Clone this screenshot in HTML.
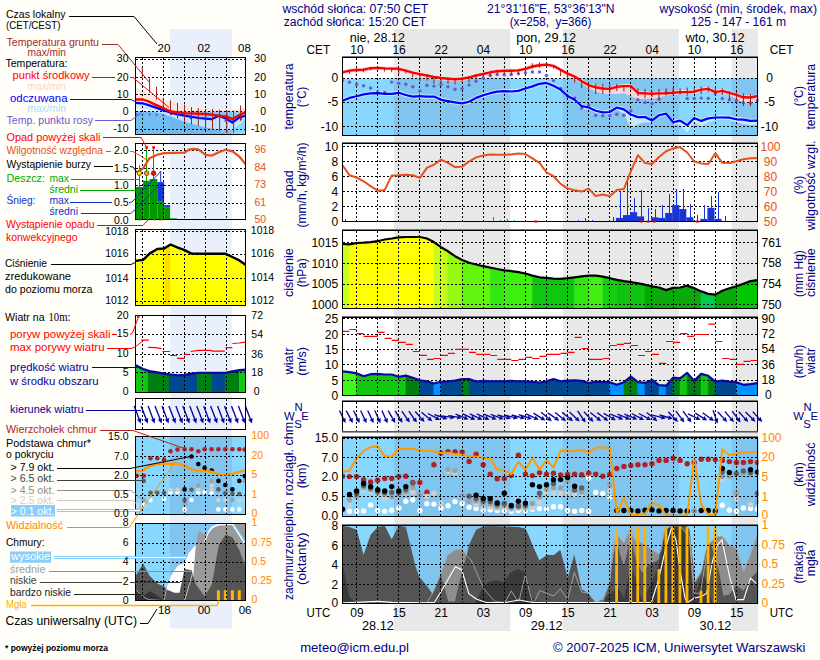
<!DOCTYPE html>
<html lang="pl"><head><meta charset="utf-8"><title>Meteogram ICM</title>
<style>
html,body{margin:0;padding:0;background:#fffef8;}
body{width:820px;height:660px;overflow:hidden;font-family:"Liberation Sans",sans-serif;}
svg{display:block;font-family:"Liberation Sans",sans-serif;}
text{white-space:pre;}
</style></head><body>
<svg width="820" height="660" viewBox="0 0 820 660">
<rect x="0" y="0" width="820" height="660" fill="#fffef8"/>
<rect x="342" y="29" width="416" height="602" fill="#fff"/>
<rect x="394.1" y="29.0" width="116.2" height="602.0" fill="#e8e8e8"/><rect x="562.9" y="29.0" width="116.0" height="602.0" fill="#e8e8e8"/><rect x="731.6" y="29.0" width="26.4" height="602.0" fill="#e8e8e8"/>
<clipPath id="c1"><rect x="342.5" y="57.5" width="416.0" height="78.0"/></clipPath>
<g clip-path="url(#c1)">
<rect x="342.5" y="78.4" width="416.0" height="57.6" fill="#87d7ff"/>
<rect x="394.1" y="78.4" width="116.2" height="57.6" fill="#80c4f0"/>
<rect x="562.9" y="78.4" width="116.0" height="57.6" fill="#80c4f0"/>
<rect x="731.6" y="78.4" width="26.4" height="57.6" fill="#80c4f0"/>
<polygon points="342.5,98.6 349.5,95.7 356.6,94.0 363.6,92.2 370.6,91.2 377.7,91.0 384.7,91.6 391.7,91.6 398.8,90.6 405.8,92.8 412.8,94.4 419.9,94.0 426.9,94.4 433.9,94.4 441.0,97.6 448.0,98.9 455.0,100.2 462.1,101.2 469.1,99.5 476.1,95.7 483.2,93.1 490.2,91.0 497.2,89.5 504.3,88.9 511.3,89.3 518.4,88.7 525.4,86.3 532.4,84.2 539.5,81.6 546.5,80.7 553.5,83.5 560.6,87.4 567.6,93.8 574.6,97.6 581.7,104.0 588.7,105.3 595.7,108.5 602.8,110.2 609.8,109.8 616.8,105.3 623.9,107.2 630.9,112.3 637.9,114.9 645.0,114.9 652.0,118.4 659.0,113.0 666.1,111.4 673.1,120.0 680.1,118.4 687.2,123.0 694.2,115.8 701.2,118.7 708.3,116.2 715.3,115.3 722.3,115.3 729.4,115.5 736.4,117.1 743.4,117.5 750.5,118.7 757.5,118.4 757.5,124.8 750.5,125.1 743.4,123.9 736.4,122.5 729.4,119.9 722.3,119.7 715.3,119.7 708.3,122.6 701.2,126.1 694.2,122.2 687.2,132.4 680.1,124.8 673.1,124.4 666.1,115.8 659.0,117.4 652.0,122.8 645.0,122.3 637.9,124.3 630.9,128.7 623.9,113.6 616.8,109.7 609.8,114.2 602.8,114.6 595.7,112.9 588.7,109.7 581.7,108.4 574.6,102.0 567.6,98.2 560.6,91.8 553.5,87.9 546.5,85.1 539.5,86.0 532.4,88.6 525.4,90.7 518.4,93.1 511.3,93.7 504.3,93.3 497.2,93.9 490.2,95.4 483.2,97.5 476.1,100.1 469.1,103.9 462.1,105.6 455.0,104.6 448.0,103.3 441.0,102.0 433.9,98.8 426.9,98.8 419.9,98.4 412.8,98.8 405.8,97.2 398.8,95.0 391.7,96.0 384.7,96.0 377.7,95.4 370.6,95.6 363.6,96.6 356.6,98.4 349.5,100.1 342.5,103.0" fill="#d4efff" opacity="0.85"/>
<polygon points="342.5,70.3 349.5,68.6 356.6,68.0 363.6,67.7 370.6,66.2 377.7,65.9 384.7,66.4 391.7,66.6 398.8,66.8 405.8,68.6 412.8,70.7 419.9,72.2 426.9,73.5 433.9,75.0 441.0,76.0 448.0,76.7 455.0,77.3 462.1,76.8 469.1,75.4 476.1,73.5 483.2,72.0 490.2,70.3 497.2,69.3 504.3,68.7 511.3,68.7 518.4,68.4 525.4,66.8 532.4,64.5 539.5,63.2 546.5,62.6 553.5,63.9 560.6,67.7 567.6,71.6 574.6,74.5 581.7,79.2 588.7,83.1 595.7,85.3 602.8,86.5 609.8,86.9 616.8,84.8 623.9,84.1 630.9,84.1 637.9,91.0 645.0,91.4 652.0,91.7 659.0,91.4 666.1,91.2 673.1,90.8 680.1,90.1 687.2,90.1 694.2,89.7 701.2,87.6 708.3,86.9 715.3,90.1 722.3,88.9 729.4,90.8 736.4,92.9 743.4,95.3 750.5,95.5 757.5,94.0 757.5,102.2 750.5,103.7 743.4,102.5 736.4,99.1 729.4,95.0 722.3,93.1 715.3,94.3 708.3,91.1 701.2,91.8 694.2,93.9 687.2,94.3 680.1,94.3 673.1,95.0 666.1,95.4 659.0,97.6 652.0,98.9 645.0,98.6 637.9,99.2 630.9,96.3 623.9,93.3 616.8,94.0 609.8,94.1 602.8,93.7 595.7,91.5 588.7,88.3 581.7,83.4 574.6,78.7 567.6,75.8 560.6,71.9 553.5,68.1 546.5,66.8 539.5,67.4 532.4,68.7 525.4,71.0 518.4,72.6 511.3,72.9 504.3,72.9 497.2,73.5 490.2,74.5 483.2,76.2 476.1,77.7 469.1,79.6 462.1,81.0 455.0,81.5 448.0,80.9 441.0,80.2 433.9,79.2 426.9,77.7 419.9,76.4 412.8,74.9 405.8,72.8 398.8,71.0 391.7,70.8 384.7,70.6 377.7,70.1 370.6,70.4 363.6,71.9 356.6,72.2 349.5,72.8 342.5,74.5" fill="#ffd9d9" opacity="0.9"/>
</g>
<g stroke="#000" stroke-width="1" stroke-dasharray="2,2" shape-rendering="crispEdges" fill="none"><line x1="356.5" y1="57.5" x2="356.5" y2="135.5"/><line x1="377.5" y1="57.5" x2="377.5" y2="135.5"/><line x1="398.5" y1="57.5" x2="398.5" y2="135.5"/><line x1="419.5" y1="57.5" x2="419.5" y2="135.5"/><line x1="440.5" y1="57.5" x2="440.5" y2="135.5"/><line x1="462.5" y1="57.5" x2="462.5" y2="135.5"/><line x1="483.5" y1="57.5" x2="483.5" y2="135.5"/><line x1="504.5" y1="57.5" x2="504.5" y2="135.5"/><line x1="525.5" y1="57.5" x2="525.5" y2="135.5"/><line x1="546.5" y1="57.5" x2="546.5" y2="135.5"/><line x1="567.5" y1="57.5" x2="567.5" y2="135.5"/><line x1="588.5" y1="57.5" x2="588.5" y2="135.5"/><line x1="609.5" y1="57.5" x2="609.5" y2="135.5"/><line x1="630.5" y1="57.5" x2="630.5" y2="135.5"/><line x1="651.5" y1="57.5" x2="651.5" y2="135.5"/><line x1="673.5" y1="57.5" x2="673.5" y2="135.5"/><line x1="694.5" y1="57.5" x2="694.5" y2="135.5"/><line x1="715.5" y1="57.5" x2="715.5" y2="135.5"/><line x1="736.5" y1="57.5" x2="736.5" y2="135.5"/><line x1="342.5" y1="78.5" x2="757.5" y2="78.5"/><line x1="342.5" y1="102.5" x2="757.5" y2="102.5"/><line x1="342.5" y1="126.5" x2="757.5" y2="126.5"/></g>
<g clip-path="url(#c1)">
<circle cx="342.5" cy="80.6" r="1.7" fill="#6a5acd"/>
<circle cx="349.5" cy="82.3" r="1.7" fill="#6a5acd"/>
<circle cx="356.6" cy="84.2" r="1.7" fill="#6a5acd"/>
<circle cx="363.6" cy="85.7" r="1.7" fill="#6a5acd"/>
<circle cx="370.6" cy="88.0" r="1.7" fill="#6a5acd"/>
<circle cx="377.7" cy="91.9" r="1.7" fill="#6a5acd"/>
<circle cx="384.7" cy="92.4" r="1.7" fill="#6a5acd"/>
<circle cx="391.7" cy="82.1" r="1.7" fill="#6a5acd"/>
<circle cx="398.8" cy="83.2" r="1.7" fill="#6a5acd"/>
<circle cx="405.8" cy="84.2" r="1.7" fill="#6a5acd"/>
<circle cx="412.8" cy="86.8" r="1.7" fill="#6a5acd"/>
<circle cx="419.9" cy="90.9" r="1.7" fill="#6a5acd"/>
<circle cx="426.9" cy="85.2" r="1.7" fill="#6a5acd"/>
<circle cx="433.9" cy="86.1" r="1.7" fill="#6a5acd"/>
<circle cx="441.0" cy="84.4" r="1.7" fill="#6a5acd"/>
<circle cx="448.0" cy="86.8" r="1.7" fill="#6a5acd"/>
<circle cx="455.0" cy="89.3" r="1.7" fill="#6a5acd"/>
<circle cx="462.1" cy="88.7" r="1.7" fill="#6a5acd"/>
<circle cx="469.1" cy="85.1" r="1.7" fill="#6a5acd"/>
<circle cx="476.1" cy="81.2" r="1.7" fill="#6a5acd"/>
<circle cx="483.2" cy="78.0" r="1.7" fill="#6a5acd"/>
<circle cx="490.2" cy="75.5" r="1.7" fill="#6a5acd"/>
<circle cx="497.2" cy="74.6" r="1.7" fill="#6a5acd"/>
<circle cx="504.3" cy="74.8" r="1.7" fill="#6a5acd"/>
<circle cx="511.3" cy="74.5" r="1.7" fill="#6a5acd"/>
<circle cx="518.4" cy="73.8" r="1.7" fill="#6a5acd"/>
<circle cx="525.4" cy="72.7" r="1.7" fill="#6a5acd"/>
<circle cx="532.4" cy="72.0" r="1.7" fill="#6a5acd"/>
<circle cx="539.5" cy="71.9" r="1.7" fill="#6a5acd"/>
<circle cx="546.5" cy="75.5" r="1.7" fill="#6a5acd"/>
<circle cx="553.5" cy="80.6" r="1.7" fill="#6a5acd"/>
<circle cx="560.6" cy="88.5" r="1.7" fill="#6a5acd"/>
<circle cx="567.6" cy="96.2" r="1.7" fill="#6a5acd"/>
<circle cx="574.6" cy="98.3" r="1.7" fill="#6a5acd"/>
<circle cx="581.7" cy="108.1" r="1.7" fill="#6a5acd"/>
<circle cx="588.7" cy="105.2" r="1.7" fill="#6a5acd"/>
<circle cx="595.7" cy="115.2" r="1.7" fill="#6a5acd"/>
<circle cx="602.8" cy="115.8" r="1.7" fill="#6a5acd"/>
<circle cx="609.8" cy="115.8" r="1.7" fill="#6a5acd"/>
<circle cx="616.8" cy="114.2" r="1.7" fill="#6a5acd"/>
<circle cx="623.9" cy="115.2" r="1.7" fill="#6a5acd"/>
<circle cx="630.9" cy="110.7" r="1.7" fill="#6a5acd"/>
<circle cx="637.9" cy="99.8" r="1.7" fill="#6a5acd"/>
<circle cx="645.0" cy="102.6" r="1.7" fill="#6a5acd"/>
<circle cx="652.0" cy="103.4" r="1.7" fill="#6a5acd"/>
<circle cx="659.0" cy="99.2" r="1.7" fill="#6a5acd"/>
<circle cx="666.1" cy="92.8" r="1.7" fill="#6a5acd"/>
<circle cx="673.1" cy="92.8" r="1.7" fill="#6a5acd"/>
<circle cx="680.1" cy="92.4" r="1.7" fill="#6a5acd"/>
<circle cx="687.2" cy="98.5" r="1.7" fill="#6a5acd"/>
<circle cx="694.2" cy="98.5" r="1.7" fill="#6a5acd"/>
<circle cx="701.2" cy="98.1" r="1.7" fill="#6a5acd"/>
<circle cx="708.3" cy="98.5" r="1.7" fill="#6a5acd"/>
<circle cx="715.3" cy="93.4" r="1.7" fill="#6a5acd"/>
<circle cx="722.3" cy="98.5" r="1.7" fill="#6a5acd"/>
<circle cx="729.4" cy="99.8" r="1.7" fill="#6a5acd"/>
<circle cx="736.4" cy="100.8" r="1.7" fill="#6a5acd"/>
<circle cx="743.4" cy="102.6" r="1.7" fill="#6a5acd"/>
<circle cx="750.5" cy="103.0" r="1.7" fill="#6a5acd"/>
<circle cx="757.5" cy="100.5" r="1.7" fill="#6a5acd"/>
<polyline points="342.5,100.8 349.5,97.9 356.6,96.2 363.6,94.4 370.6,93.4 377.7,93.2 384.7,93.8 391.7,93.8 398.8,92.8 405.8,95.0 412.8,96.6 419.9,96.2 426.9,96.6 433.9,96.6 441.0,99.8 448.0,101.1 455.0,102.4 462.1,103.4 469.1,101.7 476.1,97.9 483.2,95.3 490.2,93.2 497.2,91.7 504.3,91.1 511.3,91.5 518.4,90.9 525.4,88.5 532.4,86.4 539.5,83.8 546.5,82.9 553.5,85.7 560.6,89.6 567.6,96.0 574.6,99.8 581.7,106.2 588.7,107.5 595.7,110.7 602.8,112.4 609.8,112.0 616.8,107.5 623.9,109.4 630.9,114.5 637.9,117.1 645.0,117.1 652.0,120.6 659.0,115.2 666.1,113.6 673.1,122.2 680.1,120.6 687.2,125.2 694.2,118.0 701.2,120.9 708.3,118.4 715.3,117.5 722.3,117.5 729.4,117.7 736.4,119.3 743.4,119.7 750.5,120.9 757.5,120.6" fill="none" stroke="#0000ff" stroke-width="2.2" stroke-linejoin="round"/>
<polyline points="342.5,72.3 349.5,70.6 356.6,70.0 363.6,69.7 370.6,68.2 377.7,67.9 384.7,68.4 391.7,68.6 398.8,68.8 405.8,70.6 412.8,72.7 419.9,74.2 426.9,75.5 433.9,77.0 441.0,78.0 448.0,78.7 455.0,79.3 462.1,78.8 469.1,77.4 476.1,75.5 483.2,74.0 490.2,72.3 497.2,71.3 504.3,70.7 511.3,70.7 518.4,70.4 525.4,68.8 532.4,66.5 539.5,65.2 546.5,64.6 553.5,65.9 560.6,69.7 567.6,73.6 574.6,76.5 581.7,81.2 588.7,85.1 595.7,87.3 602.8,88.5 609.8,88.9 616.8,86.8 623.9,86.1 630.9,86.1 637.9,93.0 645.0,93.4 652.0,93.7 659.0,93.4 666.1,93.2 673.1,92.8 680.1,92.1 687.2,92.1 694.2,91.7 701.2,89.6 708.3,88.9 715.3,92.1 722.3,90.9 729.4,92.8 736.4,94.9 743.4,97.3 750.5,97.5 757.5,96.0" fill="none" stroke="#ff0000" stroke-width="2.4" stroke-linejoin="round"/>
<g stroke="#b01818" stroke-width="1"><line x1="349.5" y1="70.1" x2="349.5" y2="73.6"/><line x1="356.6" y1="68.4" x2="356.6" y2="72.3"/><line x1="363.6" y1="68.4" x2="363.6" y2="72.3"/><line x1="370.6" y1="67.2" x2="370.6" y2="70.4"/><line x1="377.7" y1="66.5" x2="377.7" y2="69.7"/><line x1="384.7" y1="67.8" x2="384.7" y2="71.6"/><line x1="391.7" y1="67.8" x2="391.7" y2="72.3"/><line x1="398.8" y1="68.4" x2="398.8" y2="74.2"/><line x1="405.8" y1="70.1" x2="405.8" y2="73.6"/><line x1="412.8" y1="72.3" x2="412.8" y2="77.4"/><line x1="419.9" y1="73.6" x2="419.9" y2="81.2"/><line x1="426.9" y1="74.2" x2="426.9" y2="80.6"/><line x1="433.9" y1="76.1" x2="433.9" y2="83.8"/><line x1="441.0" y1="77.4" x2="441.0" y2="82.5"/><line x1="448.0" y1="77.4" x2="448.0" y2="83.8"/><line x1="455.0" y1="78.0" x2="455.0" y2="84.4"/><line x1="462.1" y1="77.4" x2="462.1" y2="82.5"/><line x1="469.1" y1="76.1" x2="469.1" y2="82.5"/><line x1="476.1" y1="74.2" x2="476.1" y2="79.3"/><line x1="483.2" y1="72.9" x2="483.2" y2="76.8"/><line x1="490.2" y1="71.6" x2="490.2" y2="76.1"/><line x1="497.2" y1="69.7" x2="497.2" y2="74.2"/><line x1="504.3" y1="69.7" x2="504.3" y2="74.2"/><line x1="511.3" y1="69.7" x2="511.3" y2="74.8"/><line x1="518.4" y1="69.7" x2="518.4" y2="74.2"/><line x1="525.4" y1="67.8" x2="525.4" y2="71.0"/><line x1="532.4" y1="63.3" x2="532.4" y2="68.4"/><line x1="539.5" y1="62.4" x2="539.5" y2="67.8"/><line x1="546.5" y1="62.9" x2="546.5" y2="66.5"/><line x1="553.5" y1="65.9" x2="553.5" y2="68.4"/><line x1="560.6" y1="69.7" x2="560.6" y2="76.1"/><line x1="567.6" y1="72.9" x2="567.6" y2="78.7"/><line x1="574.6" y1="76.1" x2="574.6" y2="82.5"/><line x1="581.7" y1="80.6" x2="581.7" y2="88.3"/><line x1="588.7" y1="83.8" x2="588.7" y2="90.9"/><line x1="595.7" y1="83.8" x2="595.7" y2="94.1"/><line x1="602.8" y1="83.8" x2="602.8" y2="94.1"/><line x1="609.8" y1="84.4" x2="609.8" y2="93.4"/><line x1="616.8" y1="83.8" x2="616.8" y2="90.9"/><line x1="623.9" y1="85.1" x2="623.9" y2="91.5"/><line x1="630.9" y1="85.1" x2="630.9" y2="89.6"/><line x1="637.9" y1="88.3" x2="637.9" y2="96.0"/><line x1="645.0" y1="88.9" x2="645.0" y2="97.9"/><line x1="652.0" y1="91.5" x2="652.0" y2="97.3"/><line x1="659.0" y1="88.9" x2="659.0" y2="98.5"/><line x1="666.1" y1="88.3" x2="666.1" y2="95.3"/><line x1="673.1" y1="88.0" x2="673.1" y2="94.9"/><line x1="680.1" y1="88.3" x2="680.1" y2="94.4"/><line x1="687.2" y1="87.6" x2="687.2" y2="95.7"/><line x1="694.2" y1="88.3" x2="694.2" y2="93.4"/><line x1="701.2" y1="86.4" x2="701.2" y2="94.1"/><line x1="708.3" y1="86.4" x2="708.3" y2="92.1"/><line x1="715.3" y1="87.0" x2="715.3" y2="94.7"/><line x1="722.3" y1="88.3" x2="722.3" y2="94.7"/><line x1="729.4" y1="90.9" x2="729.4" y2="99.2"/><line x1="736.4" y1="92.1" x2="736.4" y2="99.8"/><line x1="743.4" y1="93.4" x2="743.4" y2="106.2"/><line x1="750.5" y1="94.1" x2="750.5" y2="106.2"/><line x1="757.5" y1="94.7" x2="757.5" y2="101.1"/></g>
</g>
<g shape-rendering="crispEdges" fill="none" stroke-width="1"><line x1="342.0" y1="56.5" x2="758.0" y2="56.5" stroke="#777"/><rect x="342.5" y="57.5" width="415.0" height="78.0" stroke="#000"/></g>
<clipPath id="c2"><rect x="342.5" y="143.5" width="416.0" height="79.0"/></clipPath>
<g stroke="#000" stroke-width="1" stroke-dasharray="2,2" shape-rendering="crispEdges" fill="none"><line x1="356.5" y1="143.5" x2="356.5" y2="221.5"/><line x1="377.5" y1="143.5" x2="377.5" y2="221.5"/><line x1="398.5" y1="143.5" x2="398.5" y2="221.5"/><line x1="419.5" y1="143.5" x2="419.5" y2="221.5"/><line x1="440.5" y1="143.5" x2="440.5" y2="221.5"/><line x1="462.5" y1="143.5" x2="462.5" y2="221.5"/><line x1="483.5" y1="143.5" x2="483.5" y2="221.5"/><line x1="504.5" y1="143.5" x2="504.5" y2="221.5"/><line x1="525.5" y1="143.5" x2="525.5" y2="221.5"/><line x1="546.5" y1="143.5" x2="546.5" y2="221.5"/><line x1="567.5" y1="143.5" x2="567.5" y2="221.5"/><line x1="588.5" y1="143.5" x2="588.5" y2="221.5"/><line x1="609.5" y1="143.5" x2="609.5" y2="221.5"/><line x1="630.5" y1="143.5" x2="630.5" y2="221.5"/><line x1="651.5" y1="143.5" x2="651.5" y2="221.5"/><line x1="673.5" y1="143.5" x2="673.5" y2="221.5"/><line x1="694.5" y1="143.5" x2="694.5" y2="221.5"/><line x1="715.5" y1="143.5" x2="715.5" y2="221.5"/><line x1="736.5" y1="143.5" x2="736.5" y2="221.5"/><line x1="342.5" y1="146.5" x2="757.5" y2="146.5"/><line x1="342.5" y1="161.5" x2="757.5" y2="161.5"/><line x1="342.5" y1="176.5" x2="757.5" y2="176.5"/><line x1="342.5" y1="191.5" x2="757.5" y2="191.5"/><line x1="342.5" y1="206.5" x2="757.5" y2="206.5"/></g>
<g clip-path="url(#c2)">
<rect x="578.0" y="220.2" width="1" height="1.3" fill="#1a35d6" shape-rendering="crispEdges"/>
<rect x="585.0" y="217.9" width="1" height="3.6" fill="#1a35d6" shape-rendering="crispEdges"/>
<rect x="592.0" y="220.2" width="1" height="1.3" fill="#1a35d6" shape-rendering="crispEdges"/>
<rect x="613.0" y="217.3" width="1" height="4.2" fill="#1a35d6" shape-rendering="crispEdges"/>
<rect x="615.9" y="217.9" width="7.1" height="3.6" fill="#1a35d6"/>
<rect x="620.0" y="191.0" width="1" height="30.5" fill="#1a35d6" shape-rendering="crispEdges"/>
<rect x="623.0" y="215.1" width="7.1" height="6.4" fill="#1a35d6"/>
<rect x="627.0" y="182.1" width="1" height="39.4" fill="#1a35d6" shape-rendering="crispEdges"/>
<rect x="630.0" y="212.2" width="7.1" height="9.3" fill="#1a35d6"/>
<rect x="634.0" y="197.5" width="1" height="24.0" fill="#1a35d6" shape-rendering="crispEdges"/>
<rect x="637.0" y="216.4" width="7.1" height="5.1" fill="#1a35d6"/>
<rect x="641.0" y="190.0" width="1" height="31.5" fill="#1a35d6" shape-rendering="crispEdges"/>
<rect x="644.1" y="221.0" width="7.1" height="0.5" fill="#1a35d6"/>
<rect x="648.0" y="208.3" width="1" height="13.2" fill="#1a35d6" shape-rendering="crispEdges"/>
<rect x="651.1" y="217.3" width="7.1" height="4.2" fill="#1a35d6"/>
<rect x="655.0" y="209.0" width="1" height="12.5" fill="#1a35d6" shape-rendering="crispEdges"/>
<rect x="658.1" y="217.9" width="7.1" height="3.6" fill="#1a35d6"/>
<rect x="662.0" y="205.1" width="1" height="16.4" fill="#1a35d6" shape-rendering="crispEdges"/>
<rect x="665.2" y="213.0" width="7.1" height="8.5" fill="#1a35d6"/>
<rect x="669.0" y="194.2" width="1" height="27.3" fill="#1a35d6" shape-rendering="crispEdges"/>
<rect x="672.2" y="205.1" width="7.1" height="16.4" fill="#1a35d6"/>
<rect x="676.0" y="189.1" width="1" height="32.4" fill="#1a35d6" shape-rendering="crispEdges"/>
<rect x="679.2" y="209.0" width="7.1" height="12.5" fill="#1a35d6"/>
<rect x="683.0" y="189.1" width="1" height="32.4" fill="#1a35d6" shape-rendering="crispEdges"/>
<rect x="686.3" y="217.3" width="7.1" height="4.2" fill="#1a35d6"/>
<rect x="690.0" y="203.8" width="1" height="17.7" fill="#1a35d6" shape-rendering="crispEdges"/>
<rect x="697.0" y="215.1" width="1" height="6.4" fill="#1a35d6" shape-rendering="crispEdges"/>
<rect x="700.3" y="218.9" width="7.1" height="2.6" fill="#1a35d6"/>
<rect x="704.0" y="205.1" width="1" height="16.4" fill="#1a35d6" shape-rendering="crispEdges"/>
<rect x="707.4" y="207.9" width="7.1" height="13.6" fill="#1a35d6"/>
<rect x="711.0" y="196.1" width="1" height="25.4" fill="#1a35d6" shape-rendering="crispEdges"/>
<rect x="714.4" y="218.9" width="7.1" height="2.6" fill="#1a35d6"/>
<rect x="718.0" y="192.3" width="1" height="29.2" fill="#1a35d6" shape-rendering="crispEdges"/>
<rect x="725.0" y="216.4" width="1" height="5.1" fill="#1a35d6" shape-rendering="crispEdges"/>
<rect x="493.0" y="217.0" width="1" height="4.5" fill="#00b000" shape-rendering="crispEdges"/>
<rect x="500.0" y="219.5" width="1" height="2.0" fill="#00b000" shape-rendering="crispEdges"/>
<rect x="507.0" y="218.5" width="1" height="3.0" fill="#00b000" shape-rendering="crispEdges"/>
<rect x="514.0" y="219.5" width="1" height="2.0" fill="#00b000" shape-rendering="crispEdges"/>
<rect x="345.0" y="219.0" width="1" height="2.5" fill="#1a35d6" shape-rendering="crispEdges"/>
<polyline points="342.5,165.3 349.5,175.3 356.6,177.5 363.6,181.3 370.6,186.1 377.7,190.7 384.7,189.9 391.7,175.6 398.8,175.3 405.8,174.7 412.8,175.3 419.9,177.9 426.9,167.9 433.9,164.7 441.0,159.6 448.0,162.8 455.0,167.2 462.1,166.6 469.1,161.5 476.1,157.4 483.2,155.5 490.2,154.4 497.2,154.7 504.3,154.8 511.3,154.4 518.4,153.4 525.4,154.1 532.4,158.3 539.5,162.8 546.5,172.4 553.5,176.2 560.6,183.9 567.6,188.4 574.6,190.3 581.7,191.6 588.7,188.6 595.7,196.1 602.8,194.5 609.8,196.3 616.8,190.0 623.9,189.0 630.9,171.1 637.9,155.1 645.0,163.0 652.0,164.0 659.0,157.0 666.1,151.2 673.1,148.4 680.1,147.1 687.2,152.5 694.2,161.5 701.2,163.4 708.3,164.0 715.3,153.2 722.3,162.8 729.4,163.0 736.4,161.2 743.4,159.2 750.5,158.3 757.5,158.0" fill="none" stroke="#e8501a" stroke-width="2" stroke-linejoin="round"/>
</g>
<g shape-rendering="crispEdges" fill="none" stroke-width="1"><line x1="342.0" y1="142.5" x2="758.0" y2="142.5" stroke="#777"/><rect x="342.5" y="143.5" width="415.0" height="78.0" stroke="#000"/></g>
<rect x="534.1" y="220.5" width="3" height="2" fill="#d00000"/>
<rect x="639.7" y="220.5" width="3" height="2" fill="#d00000"/>
<rect x="646.8" y="220.5" width="3" height="2" fill="#d00000"/>
<rect x="652.9" y="220.5" width="3" height="2" fill="#d00000"/>
<rect x="696.0" y="220.5" width="3" height="2" fill="#d00000"/>
<clipPath id="c3"><rect x="342.5" y="230.5" width="416.0" height="79.0"/></clipPath>
<g clip-path="url(#c3)">
<polygon points="342.5,308.5 342.5,244.0 349.5,244.4 349.5,308.5" fill="#c8ff1e" stroke="#c8ff1e" stroke-width="0.6"/>
<polygon points="349.5,308.5 349.5,244.4 356.6,243.0 363.6,242.7 370.6,242.1 377.7,241.2 384.7,239.5 391.7,238.5 398.8,237.3 405.8,237.0 412.8,237.0 419.9,237.0 426.9,238.5 433.9,242.1 433.9,308.5" fill="#ffff00" stroke="#ffff00" stroke-width="0.6"/>
<polygon points="433.9,308.5 433.9,242.1 441.0,247.2 448.0,251.3 448.0,308.5" fill="#c6fa1c" stroke="#c6fa1c" stroke-width="0.6"/>
<polygon points="448.0,308.5 448.0,251.3 455.0,256.2 462.1,260.0 462.1,308.5" fill="#96fa10" stroke="#96fa10" stroke-width="0.6"/>
<polygon points="462.1,308.5 462.1,260.0 469.1,262.8 476.1,264.5 483.2,266.2 490.2,267.7 490.2,308.5" fill="#64f50f" stroke="#64f50f" stroke-width="0.6"/>
<polygon points="490.2,308.5 490.2,267.7 497.2,269.0 504.3,270.3 504.3,308.5" fill="#32e80f" stroke="#32e80f" stroke-width="0.6"/>
<polygon points="504.3,308.5 504.3,270.3 511.3,271.1 518.4,272.2 525.4,273.5 532.4,275.6 532.4,308.5" fill="#3cf00f" stroke="#3cf00f" stroke-width="0.6"/>
<polygon points="532.4,308.5 532.4,275.6 539.5,277.3 546.5,277.9 553.5,278.6 560.6,278.8 567.6,278.2 574.6,277.3 574.6,308.5" fill="#0cc80f" stroke="#0cc80f" stroke-width="0.6"/>
<polygon points="574.6,308.5 574.6,277.3 581.7,276.4 588.7,275.6 588.7,308.5" fill="#30e810" stroke="#30e810" stroke-width="0.6"/>
<polygon points="588.7,308.5 588.7,275.6 595.7,275.6 602.8,276.7 602.8,308.5" fill="#40f010" stroke="#40f010" stroke-width="0.6"/>
<polygon points="602.8,308.5 602.8,276.7 609.8,278.2 616.8,279.9 616.8,308.5" fill="#14d010" stroke="#14d010" stroke-width="0.6"/>
<polygon points="616.8,308.5 616.8,279.9 623.9,281.1 630.9,282.0 637.9,283.3 645.0,284.7 645.0,308.5" fill="#0fc40f" stroke="#0fc40f" stroke-width="0.6"/>
<polygon points="645.0,308.5 645.0,284.7 652.0,286.3 652.0,308.5" fill="#06a806" stroke="#06a806" stroke-width="0.6"/>
<polygon points="652.0,308.5 652.0,286.3 659.0,287.5 666.1,290.1 673.1,287.9 680.1,287.5 687.2,285.6 694.2,288.2 701.2,291.4 701.2,308.5" fill="#0aaa0a" stroke="#0aaa0a" stroke-width="0.6"/>
<polygon points="701.2,308.5 701.2,291.4 708.3,293.9 715.3,294.6 715.3,308.5" fill="#00c850" stroke="#00c850" stroke-width="0.6"/>
<polygon points="715.3,308.5 715.3,294.6 722.3,290.7 729.4,288.2 736.4,286.3 736.4,308.5" fill="#0aaa0a" stroke="#0aaa0a" stroke-width="0.6"/>
<polygon points="736.4,308.5 736.4,286.3 743.4,283.7 750.5,281.1 757.5,280.2 757.5,308.5" fill="#00c800" stroke="#00c800" stroke-width="0.6"/>
</g>
<g stroke="#000" stroke-width="1" stroke-dasharray="2,2" shape-rendering="crispEdges" fill="none"><line x1="356.5" y1="230.5" x2="356.5" y2="308.5"/><line x1="377.5" y1="230.5" x2="377.5" y2="308.5"/><line x1="398.5" y1="230.5" x2="398.5" y2="308.5"/><line x1="419.5" y1="230.5" x2="419.5" y2="308.5"/><line x1="440.5" y1="230.5" x2="440.5" y2="308.5"/><line x1="462.5" y1="230.5" x2="462.5" y2="308.5"/><line x1="483.5" y1="230.5" x2="483.5" y2="308.5"/><line x1="504.5" y1="230.5" x2="504.5" y2="308.5"/><line x1="525.5" y1="230.5" x2="525.5" y2="308.5"/><line x1="546.5" y1="230.5" x2="546.5" y2="308.5"/><line x1="567.5" y1="230.5" x2="567.5" y2="308.5"/><line x1="588.5" y1="230.5" x2="588.5" y2="308.5"/><line x1="609.5" y1="230.5" x2="609.5" y2="308.5"/><line x1="630.5" y1="230.5" x2="630.5" y2="308.5"/><line x1="651.5" y1="230.5" x2="651.5" y2="308.5"/><line x1="673.5" y1="230.5" x2="673.5" y2="308.5"/><line x1="694.5" y1="230.5" x2="694.5" y2="308.5"/><line x1="715.5" y1="230.5" x2="715.5" y2="308.5"/><line x1="736.5" y1="230.5" x2="736.5" y2="308.5"/><line x1="342.5" y1="242.5" x2="757.5" y2="242.5"/><line x1="342.5" y1="263.5" x2="757.5" y2="263.5"/><line x1="342.5" y1="284.5" x2="757.5" y2="284.5"/><line x1="342.5" y1="304.5" x2="757.5" y2="304.5"/></g>
<g clip-path="url(#c3)">
<polyline points="342.5,244.0 349.5,244.4 356.6,243.0 363.6,242.7 370.6,242.1 377.7,241.2 384.7,239.5 391.7,238.5 398.8,237.3 405.8,237.0 412.8,237.0 419.9,237.0 426.9,238.5 433.9,242.1 441.0,247.2 448.0,251.3 455.0,256.2 462.1,260.0 469.1,262.8 476.1,264.5 483.2,266.2 490.2,267.7 497.2,269.0 504.3,270.3 511.3,271.1 518.4,272.2 525.4,273.5 532.4,275.6 539.5,277.3 546.5,277.9 553.5,278.6 560.6,278.8 567.6,278.2 574.6,277.3 581.7,276.4 588.7,275.6 595.7,275.6 602.8,276.7 609.8,278.2 616.8,279.9 623.9,281.1 630.9,282.0 637.9,283.3 645.0,284.7 652.0,286.3 659.0,287.5 666.1,290.1 673.1,287.9 680.1,287.5 687.2,285.6 694.2,288.2 701.2,291.4 708.3,293.9 715.3,294.6 722.3,290.7 729.4,288.2 736.4,286.3 743.4,283.7 750.5,281.1 757.5,280.2" fill="none" stroke="#000" stroke-width="2.2" stroke-linejoin="round"/>
</g>
<g shape-rendering="crispEdges" fill="none" stroke-width="1"><line x1="342.0" y1="229.5" x2="758.0" y2="229.5" stroke="#777"/><rect x="342.5" y="230.5" width="415.0" height="78.0" stroke="#000"/></g>
<clipPath id="c4"><rect x="342.5" y="317.5" width="416.0" height="79.0"/></clipPath>
<g clip-path="url(#c4)">
<polygon points="342.5,395.5 342.5,371.3 349.5,372.2 356.6,373.3 356.6,395.5" fill="#40f818" stroke="#40f818" stroke-width="0.6"/>
<polygon points="356.6,395.5 356.6,373.3 363.6,376.2 370.6,374.2 377.7,373.9 384.7,374.5 391.7,374.5 398.8,376.8 405.8,375.6 405.8,395.5" fill="#10c810" stroke="#10c810" stroke-width="0.6"/>
<polygon points="405.8,395.5 405.8,375.6 412.8,377.7 419.9,380.3 419.9,395.5" fill="#008010" stroke="#008010" stroke-width="0.6"/>
<polygon points="419.9,395.5 419.9,380.3 426.9,381.3 433.9,383.5 433.9,395.5" fill="#004890" stroke="#004890" stroke-width="0.6"/>
<polygon points="433.9,395.5 433.9,383.5 441.0,381.8 441.0,395.5" fill="#0090ff" stroke="#0090ff" stroke-width="0.6"/>
<polygon points="441.0,395.5 441.0,381.8 448.0,381.3 455.0,380.6 462.1,379.0 462.1,395.5" fill="#004890" stroke="#004890" stroke-width="0.6"/>
<polygon points="462.1,395.5 462.1,379.0 469.1,379.0 469.1,395.5" fill="#008010" stroke="#008010" stroke-width="0.6"/>
<polygon points="469.1,395.5 469.1,379.0 476.1,381.6 483.2,380.9 490.2,381.3 497.2,381.3 504.3,381.3 511.3,380.9 518.4,381.3 525.4,381.3 532.4,381.8 539.5,382.6 546.5,381.3 553.5,379.0 560.6,381.3 567.6,380.6 574.6,380.3 581.7,380.9 588.7,383.1 595.7,381.6 602.8,382.2 609.8,382.2 609.8,395.5" fill="#004890" stroke="#004890" stroke-width="0.6"/>
<polygon points="609.8,395.5 609.8,382.2 616.8,384.8 623.9,382.2 623.9,395.5" fill="#0090ff" stroke="#0090ff" stroke-width="0.6"/>
<polygon points="623.9,395.5 623.9,382.2 630.9,376.5 637.9,382.2 637.9,395.5" fill="#008010" stroke="#008010" stroke-width="0.6"/>
<polygon points="637.9,395.5 637.9,382.2 645.0,382.9 645.0,395.5" fill="#0090ff" stroke="#0090ff" stroke-width="0.6"/>
<polygon points="645.0,395.5 645.0,382.9 652.0,380.0 659.0,385.2 659.0,395.5" fill="#004890" stroke="#004890" stroke-width="0.6"/>
<polygon points="659.0,395.5 659.0,385.2 666.1,385.7 666.1,395.5" fill="#0090ff" stroke="#0090ff" stroke-width="0.6"/>
<polygon points="666.1,395.5 666.1,385.7 673.1,377.7 673.1,395.5" fill="#004890" stroke="#004890" stroke-width="0.6"/>
<polygon points="673.1,395.5 673.1,377.7 680.1,378.4 680.1,395.5" fill="#008010" stroke="#008010" stroke-width="0.6"/>
<polygon points="680.1,395.5 680.1,378.4 687.2,372.9 687.2,395.5" fill="#10c810" stroke="#10c810" stroke-width="0.6"/>
<polygon points="687.2,395.5 687.2,372.9 694.2,380.9 701.2,373.9 701.2,395.5" fill="#008010" stroke="#008010" stroke-width="0.6"/>
<polygon points="701.2,395.5 701.2,373.9 708.3,375.8 708.3,395.5" fill="#10c810" stroke="#10c810" stroke-width="0.6"/>
<polygon points="708.3,395.5 708.3,375.8 715.3,381.6 715.3,395.5" fill="#008010" stroke="#008010" stroke-width="0.6"/>
<polygon points="715.3,395.5 715.3,381.6 722.3,380.6 729.4,381.6 736.4,382.2 736.4,395.5" fill="#004890" stroke="#004890" stroke-width="0.6"/>
<polygon points="736.4,395.5 736.4,382.2 743.4,384.8 750.5,384.1 757.5,383.1 757.5,395.5" fill="#0090ff" stroke="#0090ff" stroke-width="0.6"/>
</g>
<g stroke="#000" stroke-width="1" stroke-dasharray="2,2" shape-rendering="crispEdges" fill="none"><line x1="356.5" y1="317.5" x2="356.5" y2="395.5"/><line x1="377.5" y1="317.5" x2="377.5" y2="395.5"/><line x1="398.5" y1="317.5" x2="398.5" y2="395.5"/><line x1="419.5" y1="317.5" x2="419.5" y2="395.5"/><line x1="440.5" y1="317.5" x2="440.5" y2="395.5"/><line x1="462.5" y1="317.5" x2="462.5" y2="395.5"/><line x1="483.5" y1="317.5" x2="483.5" y2="395.5"/><line x1="504.5" y1="317.5" x2="504.5" y2="395.5"/><line x1="525.5" y1="317.5" x2="525.5" y2="395.5"/><line x1="546.5" y1="317.5" x2="546.5" y2="395.5"/><line x1="567.5" y1="317.5" x2="567.5" y2="395.5"/><line x1="588.5" y1="317.5" x2="588.5" y2="395.5"/><line x1="609.5" y1="317.5" x2="609.5" y2="395.5"/><line x1="630.5" y1="317.5" x2="630.5" y2="395.5"/><line x1="651.5" y1="317.5" x2="651.5" y2="395.5"/><line x1="673.5" y1="317.5" x2="673.5" y2="395.5"/><line x1="694.5" y1="317.5" x2="694.5" y2="395.5"/><line x1="715.5" y1="317.5" x2="715.5" y2="395.5"/><line x1="736.5" y1="317.5" x2="736.5" y2="395.5"/><line x1="342.5" y1="318.5" x2="757.5" y2="318.5"/><line x1="342.5" y1="334.5" x2="757.5" y2="334.5"/><line x1="342.5" y1="349.5" x2="757.5" y2="349.5"/><line x1="342.5" y1="364.5" x2="757.5" y2="364.5"/><line x1="342.5" y1="380.5" x2="757.5" y2="380.5"/></g>
<g clip-path="url(#c4)">
<polyline points="342.5,371.3 349.5,372.2 356.6,373.3 363.6,376.2 370.6,374.2 377.7,373.9 384.7,374.5 391.7,374.5 398.8,376.8 405.8,375.6 412.8,377.7 419.9,380.3 426.9,381.3 433.9,383.5 441.0,381.8 448.0,381.3 455.0,380.6 462.1,379.0 469.1,379.0 476.1,381.6 483.2,380.9 490.2,381.3 497.2,381.3 504.3,381.3 511.3,380.9 518.4,381.3 525.4,381.3 532.4,381.8 539.5,382.6 546.5,381.3 553.5,379.0 560.6,381.3 567.6,380.6 574.6,380.3 581.7,380.9 588.7,383.1 595.7,381.6 602.8,382.2 609.8,382.2 616.8,384.8 623.9,382.2 630.9,376.5 637.9,382.2 645.0,382.9 652.0,380.0 659.0,385.2 666.1,385.7 673.1,377.7 680.1,378.4 687.2,372.9 694.2,380.9 701.2,373.9 708.3,375.8 715.3,381.6 722.3,380.6 729.4,381.6 736.4,382.2 743.4,384.8 750.5,384.1 757.5,383.1" fill="none" stroke="#0a0aa0" stroke-width="2.2" stroke-linejoin="round"/>
<g stroke="#ff0000" stroke-width="1.2"><line x1="342.5" y1="331.4" x2="349.5" y2="331.4"/><line x1="349.5" y1="329.5" x2="356.6" y2="329.5"/><line x1="356.6" y1="333.6" x2="363.6" y2="333.6"/><line x1="363.6" y1="336.4" x2="370.6" y2="336.4"/><line x1="370.6" y1="336.4" x2="377.7" y2="336.4"/><line x1="377.7" y1="332.3" x2="384.7" y2="332.3"/><line x1="384.7" y1="338.4" x2="391.7" y2="338.4"/><line x1="391.7" y1="340.4" x2="398.8" y2="340.4"/><line x1="398.8" y1="342.3" x2="405.8" y2="342.3"/><line x1="405.8" y1="344.4" x2="412.8" y2="344.4"/><line x1="412.8" y1="351.5" x2="419.9" y2="351.5"/><line x1="419.9" y1="355.3" x2="426.9" y2="355.3"/><line x1="426.9" y1="359.4" x2="433.9" y2="359.4"/><line x1="433.9" y1="358.5" x2="441.0" y2="358.5"/><line x1="441.0" y1="355.3" x2="448.0" y2="355.3"/><line x1="448.0" y1="353.4" x2="455.0" y2="353.4"/><line x1="455.0" y1="349.3" x2="462.1" y2="349.3"/><line x1="462.1" y1="349.3" x2="469.1" y2="349.3"/><line x1="469.1" y1="352.4" x2="476.1" y2="352.4"/><line x1="476.1" y1="354.4" x2="483.2" y2="354.4"/><line x1="483.2" y1="354.4" x2="490.2" y2="354.4"/><line x1="490.2" y1="355.5" x2="497.2" y2="355.5"/><line x1="497.2" y1="359.4" x2="504.3" y2="359.4"/><line x1="504.3" y1="359.4" x2="511.3" y2="359.4"/><line x1="511.3" y1="360.5" x2="518.4" y2="360.5"/><line x1="518.4" y1="359.4" x2="525.4" y2="359.4"/><line x1="525.4" y1="357.3" x2="532.4" y2="357.3"/><line x1="532.4" y1="358.5" x2="539.5" y2="358.5"/><line x1="539.5" y1="356.4" x2="546.5" y2="356.4"/><line x1="546.5" y1="354.4" x2="553.5" y2="354.4"/><line x1="553.5" y1="354.4" x2="560.6" y2="354.4"/><line x1="560.6" y1="353.4" x2="567.6" y2="353.4"/><line x1="567.6" y1="352.4" x2="574.6" y2="352.4"/><line x1="574.6" y1="337.4" x2="581.7" y2="337.4"/><line x1="581.7" y1="348.5" x2="588.7" y2="348.5"/><line x1="588.7" y1="359.4" x2="595.7" y2="359.4"/><line x1="595.7" y1="359.4" x2="602.8" y2="359.4"/><line x1="602.8" y1="358.5" x2="609.8" y2="358.5"/><line x1="609.8" y1="345.5" x2="616.8" y2="345.5"/><line x1="616.8" y1="344.4" x2="623.9" y2="344.4"/><line x1="623.9" y1="343.4" x2="630.9" y2="343.4"/><line x1="630.9" y1="345.5" x2="637.9" y2="345.5"/><line x1="637.9" y1="355.5" x2="645.0" y2="355.5"/><line x1="645.0" y1="351.5" x2="652.0" y2="351.5"/><line x1="652.0" y1="354.4" x2="659.0" y2="354.4"/><line x1="659.0" y1="363.4" x2="666.1" y2="363.4"/><line x1="666.1" y1="341.5" x2="673.1" y2="341.5"/><line x1="673.1" y1="342.4" x2="680.1" y2="342.4"/><line x1="680.1" y1="333.6" x2="687.2" y2="333.6"/><line x1="687.2" y1="336.4" x2="694.2" y2="336.4"/><line x1="694.2" y1="334.5" x2="701.2" y2="334.5"/><line x1="701.2" y1="334.5" x2="708.3" y2="334.5"/><line x1="708.3" y1="324.2" x2="715.3" y2="324.2"/><line x1="715.3" y1="341.5" x2="722.3" y2="341.5"/><line x1="722.3" y1="358.5" x2="729.4" y2="358.5"/><line x1="729.4" y1="359.4" x2="736.4" y2="359.4"/><line x1="736.4" y1="364.3" x2="743.4" y2="364.3"/><line x1="743.4" y1="361.4" x2="750.5" y2="361.4"/><line x1="750.5" y1="360.5" x2="757.5" y2="360.5"/></g>
</g>
<g shape-rendering="crispEdges" fill="none" stroke-width="1"><line x1="342.0" y1="316.5" x2="758.0" y2="316.5" stroke="#777"/><rect x="342.5" y="317.5" width="415.0" height="78.0" stroke="#000"/></g>
<rect x="342.5" y="401.5" width="415.0" height="30.0" fill="none"/>
<g stroke="#000" stroke-width="1" stroke-dasharray="2,2" shape-rendering="crispEdges" fill="none"><line x1="356.5" y1="401.5" x2="356.5" y2="431.5"/><line x1="377.5" y1="401.5" x2="377.5" y2="431.5"/><line x1="398.5" y1="401.5" x2="398.5" y2="431.5"/><line x1="419.5" y1="401.5" x2="419.5" y2="431.5"/><line x1="440.5" y1="401.5" x2="440.5" y2="431.5"/><line x1="462.5" y1="401.5" x2="462.5" y2="431.5"/><line x1="483.5" y1="401.5" x2="483.5" y2="431.5"/><line x1="504.5" y1="401.5" x2="504.5" y2="431.5"/><line x1="525.5" y1="401.5" x2="525.5" y2="431.5"/><line x1="546.5" y1="401.5" x2="546.5" y2="431.5"/><line x1="567.5" y1="401.5" x2="567.5" y2="431.5"/><line x1="588.5" y1="401.5" x2="588.5" y2="431.5"/><line x1="609.5" y1="401.5" x2="609.5" y2="431.5"/><line x1="630.5" y1="401.5" x2="630.5" y2="431.5"/><line x1="651.5" y1="401.5" x2="651.5" y2="431.5"/><line x1="673.5" y1="401.5" x2="673.5" y2="431.5"/><line x1="694.5" y1="401.5" x2="694.5" y2="431.5"/><line x1="715.5" y1="401.5" x2="715.5" y2="431.5"/><line x1="736.5" y1="401.5" x2="736.5" y2="431.5"/></g>
<line x1="339.5" y1="410.5" x2="343.5" y2="419.0" stroke="#0505a5" stroke-width="1.35"/><polygon points="345.5,423.1 341.4,419.9 345.6,418.0" fill="#0505a5"/>
<line x1="346.2" y1="410.6" x2="350.7" y2="418.9" stroke="#0505a5" stroke-width="1.35"/><polygon points="352.8,423.0 348.6,420.0 352.7,417.8" fill="#0505a5"/>
<line x1="353.5" y1="410.5" x2="357.6" y2="419.0" stroke="#0505a5" stroke-width="1.35"/><polygon points="359.6,423.1 355.6,420.0 359.7,417.9" fill="#0505a5"/>
<line x1="360.6" y1="410.5" x2="364.6" y2="419.0" stroke="#0505a5" stroke-width="1.35"/><polygon points="366.6,423.1 362.5,419.9 366.7,418.0" fill="#0505a5"/>
<line x1="367.7" y1="410.5" x2="371.7" y2="419.0" stroke="#0505a5" stroke-width="1.35"/><polygon points="373.6,423.1 369.6,419.9 373.7,418.0" fill="#0505a5"/>
<line x1="374.8" y1="410.4" x2="378.6" y2="419.0" stroke="#0505a5" stroke-width="1.35"/><polygon points="380.5,423.2 376.5,419.9 380.7,418.1" fill="#0505a5"/>
<line x1="381.9" y1="410.4" x2="385.7" y2="419.0" stroke="#0505a5" stroke-width="1.35"/><polygon points="387.6,423.2 383.6,419.9 387.8,418.1" fill="#0505a5"/>
<line x1="388.2" y1="410.7" x2="392.9" y2="418.9" stroke="#0505a5" stroke-width="1.35"/><polygon points="395.2,422.9 390.9,420.0 394.9,417.7" fill="#0505a5"/>
<line x1="395.2" y1="410.8" x2="400.0" y2="418.9" stroke="#0505a5" stroke-width="1.35"/><polygon points="402.4,422.8 398.0,420.0 402.0,417.7" fill="#0505a5"/>
<line x1="401.8" y1="411.1" x2="407.2" y2="418.8" stroke="#0505a5" stroke-width="1.35"/><polygon points="409.8,422.5 405.3,420.1 409.1,417.4" fill="#0505a5"/>
<line x1="408.8" y1="411.1" x2="414.2" y2="418.8" stroke="#0505a5" stroke-width="1.35"/><polygon points="416.9,422.5 412.3,420.1 416.1,417.4" fill="#0505a5"/>
<line x1="415.3" y1="411.5" x2="421.4" y2="418.6" stroke="#0505a5" stroke-width="1.35"/><polygon points="424.5,422.1 419.7,420.1 423.2,417.1" fill="#0505a5"/>
<line x1="421.5" y1="412.3" x2="428.7" y2="418.3" stroke="#0505a5" stroke-width="1.35"/><polygon points="432.3,421.3 427.3,420.1 430.2,416.6" fill="#0505a5"/>
<line x1="427.8" y1="413.5" x2="436.1" y2="417.9" stroke="#0505a5" stroke-width="1.35"/><polygon points="440.1,420.1 435.0,420.0 437.1,415.9" fill="#0505a5"/>
<line x1="434.3" y1="414.6" x2="443.3" y2="417.5" stroke="#0505a5" stroke-width="1.35"/><polygon points="447.6,419.0 442.5,419.7 444.0,415.4" fill="#0505a5"/>
<line x1="441.1" y1="415.8" x2="450.4" y2="417.1" stroke="#0505a5" stroke-width="1.35"/><polygon points="454.9,417.8 450.1,419.4 450.7,414.9" fill="#0505a5"/>
<line x1="448.2" y1="415.6" x2="457.4" y2="417.2" stroke="#0505a5" stroke-width="1.35"/><polygon points="461.9,418.0 457.0,419.5 457.8,415.0" fill="#0505a5"/>
<line x1="455.6" y1="414.2" x2="464.3" y2="417.7" stroke="#0505a5" stroke-width="1.35"/><polygon points="468.6,419.4 463.4,419.8 465.2,415.6" fill="#0505a5"/>
<line x1="462.8" y1="413.8" x2="471.3" y2="417.8" stroke="#0505a5" stroke-width="1.35"/><polygon points="475.5,419.8 470.3,419.9 472.3,415.7" fill="#0505a5"/>
<line x1="469.8" y1="413.8" x2="478.3" y2="417.8" stroke="#0505a5" stroke-width="1.35"/><polygon points="482.5,419.8 477.3,419.9 479.3,415.7" fill="#0505a5"/>
<line x1="476.8" y1="413.8" x2="485.4" y2="417.8" stroke="#0505a5" stroke-width="1.35"/><polygon points="489.5,419.8 484.4,419.9 486.3,415.7" fill="#0505a5"/>
<line x1="483.7" y1="414.2" x2="492.4" y2="417.7" stroke="#0505a5" stroke-width="1.35"/><polygon points="496.7,419.4 491.6,419.8 493.3,415.6" fill="#0505a5"/>
<line x1="490.7" y1="414.4" x2="499.5" y2="417.6" stroke="#0505a5" stroke-width="1.35"/><polygon points="503.8,419.2 498.7,419.8 500.3,415.5" fill="#0505a5"/>
<line x1="497.5" y1="415.0" x2="506.6" y2="417.4" stroke="#0505a5" stroke-width="1.35"/><polygon points="511.0,418.6 506.0,419.6 507.2,415.2" fill="#0505a5"/>
<line x1="504.5" y1="415.1" x2="513.6" y2="417.4" stroke="#0505a5" stroke-width="1.35"/><polygon points="518.1,418.5 513.1,419.6 514.2,415.1" fill="#0505a5"/>
<line x1="511.6" y1="415.0" x2="520.7" y2="417.4" stroke="#0505a5" stroke-width="1.35"/><polygon points="525.1,418.6 520.1,419.6 521.3,415.2" fill="#0505a5"/>
<line x1="518.7" y1="414.6" x2="527.7" y2="417.5" stroke="#0505a5" stroke-width="1.35"/><polygon points="532.0,419.0 527.0,419.7 528.4,415.4" fill="#0505a5"/>
<line x1="526.1" y1="413.8" x2="534.6" y2="417.8" stroke="#0505a5" stroke-width="1.35"/><polygon points="538.8,419.8 533.6,419.9 535.6,415.7" fill="#0505a5"/>
<line x1="533.5" y1="413.1" x2="541.5" y2="418.1" stroke="#0505a5" stroke-width="1.35"/><polygon points="545.4,420.5 540.3,420.0 542.7,416.1" fill="#0505a5"/>
<line x1="541.1" y1="412.3" x2="548.3" y2="418.3" stroke="#0505a5" stroke-width="1.35"/><polygon points="551.8,421.3 546.8,420.1 549.8,416.6" fill="#0505a5"/>
<line x1="547.7" y1="412.9" x2="555.5" y2="418.1" stroke="#0505a5" stroke-width="1.35"/><polygon points="559.3,420.7 554.2,420.0 556.8,416.2" fill="#0505a5"/>
<line x1="555.1" y1="412.4" x2="562.4" y2="418.3" stroke="#0505a5" stroke-width="1.35"/><polygon points="566.0,421.2 561.0,420.1 563.9,416.5" fill="#0505a5"/>
<line x1="562.1" y1="412.4" x2="569.5" y2="418.3" stroke="#0505a5" stroke-width="1.35"/><polygon points="573.0,421.2 568.0,420.1 570.9,416.5" fill="#0505a5"/>
<line x1="569.5" y1="412.0" x2="576.4" y2="418.4" stroke="#0505a5" stroke-width="1.35"/><polygon points="579.7,421.6 574.8,420.1 577.9,416.8" fill="#0505a5"/>
<line x1="577.7" y1="411.0" x2="583.0" y2="418.8" stroke="#0505a5" stroke-width="1.35"/><polygon points="585.6,422.6 581.1,420.1 584.9,417.5" fill="#0505a5"/>
<line x1="583.9" y1="411.7" x2="590.3" y2="418.6" stroke="#0505a5" stroke-width="1.35"/><polygon points="593.5,421.9 588.6,420.1 592.0,417.0" fill="#0505a5"/>
<line x1="590.3" y1="412.4" x2="597.6" y2="418.3" stroke="#0505a5" stroke-width="1.35"/><polygon points="601.2,421.2 596.1,420.1 599.0,416.5" fill="#0505a5"/>
<line x1="597.2" y1="412.6" x2="604.7" y2="418.2" stroke="#0505a5" stroke-width="1.35"/><polygon points="608.3,421.0 603.3,420.1 606.1,416.4" fill="#0505a5"/>
<line x1="603.7" y1="413.4" x2="611.9" y2="418.0" stroke="#0505a5" stroke-width="1.35"/><polygon points="615.9,420.2 610.8,420.0 613.0,416.0" fill="#0505a5"/>
<line x1="610.3" y1="414.2" x2="619.1" y2="417.7" stroke="#0505a5" stroke-width="1.35"/><polygon points="623.3,419.4 618.2,419.8 619.9,415.6" fill="#0505a5"/>
<line x1="617.4" y1="414.2" x2="626.1" y2="417.7" stroke="#0505a5" stroke-width="1.35"/><polygon points="630.4,419.4 625.2,419.8 626.9,415.6" fill="#0505a5"/>
<line x1="624.4" y1="414.2" x2="633.1" y2="417.7" stroke="#0505a5" stroke-width="1.35"/><polygon points="637.4,419.4 632.3,419.8 634.0,415.6" fill="#0505a5"/>
<line x1="631.7" y1="413.5" x2="640.0" y2="417.9" stroke="#0505a5" stroke-width="1.35"/><polygon points="644.1,420.1 639.0,420.0 641.1,415.9" fill="#0505a5"/>
<line x1="638.8" y1="413.5" x2="647.1" y2="417.9" stroke="#0505a5" stroke-width="1.35"/><polygon points="651.1,420.1 646.0,420.0 648.2,415.9" fill="#0505a5"/>
<line x1="646.6" y1="412.4" x2="653.9" y2="418.3" stroke="#0505a5" stroke-width="1.35"/><polygon points="657.4,421.2 652.4,420.1 655.3,416.5" fill="#0505a5"/>
<line x1="652.2" y1="415.1" x2="661.4" y2="417.4" stroke="#0505a5" stroke-width="1.35"/><polygon points="665.8,418.5 660.8,419.6 661.9,415.1" fill="#0505a5"/>
<line x1="659.4" y1="414.8" x2="668.4" y2="417.5" stroke="#0505a5" stroke-width="1.35"/><polygon points="672.8,418.8 667.7,419.7 669.0,415.3" fill="#0505a5"/>
<line x1="668.3" y1="411.7" x2="674.7" y2="418.6" stroke="#0505a5" stroke-width="1.35"/><polygon points="677.9,421.9 673.1,420.1 676.4,417.0" fill="#0505a5"/>
<line x1="675.9" y1="411.2" x2="681.6" y2="418.7" stroke="#0505a5" stroke-width="1.35"/><polygon points="684.3,422.4 679.7,420.1 683.4,417.3" fill="#0505a5"/>
<line x1="683.0" y1="411.2" x2="688.6" y2="418.7" stroke="#0505a5" stroke-width="1.35"/><polygon points="691.4,422.4 686.8,420.1 690.4,417.3" fill="#0505a5"/>
<line x1="687.9" y1="413.8" x2="696.4" y2="417.8" stroke="#0505a5" stroke-width="1.35"/><polygon points="700.5,419.8 695.4,419.9 697.3,415.7" fill="#0505a5"/>
<line x1="695.3" y1="413.1" x2="703.3" y2="418.1" stroke="#0505a5" stroke-width="1.35"/><polygon points="707.2,420.5 702.1,420.0 704.5,416.1" fill="#0505a5"/>
<line x1="702.6" y1="412.7" x2="710.2" y2="418.2" stroke="#0505a5" stroke-width="1.35"/><polygon points="713.9,420.9 708.9,420.1 711.6,416.3" fill="#0505a5"/>
<line x1="713.0" y1="410.2" x2="716.1" y2="419.1" stroke="#0505a5" stroke-width="1.35"/><polygon points="717.6,423.4 713.9,419.8 718.3,418.3" fill="#0505a5"/>
<line x1="717.6" y1="411.7" x2="724.0" y2="418.6" stroke="#0505a5" stroke-width="1.35"/><polygon points="727.1,421.9 722.3,420.1 725.7,417.0" fill="#0505a5"/>
<line x1="724.9" y1="411.4" x2="730.9" y2="418.6" stroke="#0505a5" stroke-width="1.35"/><polygon points="733.9,422.2 729.2,420.1 732.7,417.2" fill="#0505a5"/>
<line x1="732.2" y1="411.2" x2="737.8" y2="418.7" stroke="#0505a5" stroke-width="1.35"/><polygon points="740.6,422.4 736.0,420.1 739.7,417.3" fill="#0505a5"/>
<line x1="738.7" y1="411.7" x2="745.1" y2="418.6" stroke="#0505a5" stroke-width="1.35"/><polygon points="748.2,421.9 743.4,420.1 746.8,417.0" fill="#0505a5"/>
<line x1="745.5" y1="411.9" x2="752.2" y2="418.5" stroke="#0505a5" stroke-width="1.35"/><polygon points="755.4,421.7 750.5,420.1 753.8,416.9" fill="#0505a5"/>
<line x1="752.8" y1="411.6" x2="759.1" y2="418.6" stroke="#0505a5" stroke-width="1.35"/><polygon points="762.2,422.0 757.4,420.1 760.8,417.0" fill="#0505a5"/>
<g shape-rendering="crispEdges" fill="none" stroke-width="1"><line x1="342" y1="400.5" x2="758" y2="400.5" stroke="#777"/><polyline points="342.5,432 342.5,401.5 757.5,401.5 757.5,432" stroke="#000"/><line x1="342" y1="431.5" x2="758" y2="431.5" stroke="#555"/><line x1="342" y1="432.5" x2="758" y2="432.5" stroke="#999"/></g>
<clipPath id="c6"><rect x="342.5" y="437.5" width="416.0" height="79.5"/></clipPath>
<rect x="342.5" y="437.5" width="416.0" height="79.0" fill="#87d7ff"/>
<rect x="394.1" y="437.5" width="116.2" height="79.0" fill="#80c4f0"/>
<rect x="562.9" y="437.5" width="116.0" height="79.0" fill="#80c4f0"/>
<rect x="731.6" y="437.5" width="26.4" height="79.0" fill="#80c4f0"/>
<g stroke="#000" stroke-width="1" stroke-dasharray="2,2" shape-rendering="crispEdges" fill="none"><line x1="356.5" y1="437.5" x2="356.5" y2="516.5"/><line x1="377.5" y1="437.5" x2="377.5" y2="516.5"/><line x1="398.5" y1="437.5" x2="398.5" y2="516.5"/><line x1="419.5" y1="437.5" x2="419.5" y2="516.5"/><line x1="440.5" y1="437.5" x2="440.5" y2="516.5"/><line x1="462.5" y1="437.5" x2="462.5" y2="516.5"/><line x1="483.5" y1="437.5" x2="483.5" y2="516.5"/><line x1="504.5" y1="437.5" x2="504.5" y2="516.5"/><line x1="525.5" y1="437.5" x2="525.5" y2="516.5"/><line x1="546.5" y1="437.5" x2="546.5" y2="516.5"/><line x1="567.5" y1="437.5" x2="567.5" y2="516.5"/><line x1="588.5" y1="437.5" x2="588.5" y2="516.5"/><line x1="609.5" y1="437.5" x2="609.5" y2="516.5"/><line x1="630.5" y1="437.5" x2="630.5" y2="516.5"/><line x1="651.5" y1="437.5" x2="651.5" y2="516.5"/><line x1="673.5" y1="437.5" x2="673.5" y2="516.5"/><line x1="694.5" y1="437.5" x2="694.5" y2="516.5"/><line x1="715.5" y1="437.5" x2="715.5" y2="516.5"/><line x1="736.5" y1="437.5" x2="736.5" y2="516.5"/><line x1="342.5" y1="438.5" x2="757.5" y2="438.5"/><line x1="342.5" y1="457.5" x2="757.5" y2="457.5"/><line x1="342.5" y1="476.5" x2="757.5" y2="476.5"/><line x1="342.5" y1="496.5" x2="757.5" y2="496.5"/></g>
<g clip-path="url(#c6)">
<circle cx="342.5" cy="476.2" r="2.7" fill="#b22222"/>
<circle cx="349.5" cy="476.6" r="2.7" fill="#b22222"/>
<circle cx="356.6" cy="476.6" r="2.7" fill="#b22222"/>
<circle cx="363.6" cy="479.8" r="2.7" fill="#b22222"/>
<circle cx="370.6" cy="482.0" r="2.7" fill="#b22222"/>
<circle cx="377.7" cy="480.2" r="2.7" fill="#b22222"/>
<circle cx="384.7" cy="478.5" r="2.7" fill="#b22222"/>
<circle cx="391.7" cy="478.5" r="2.7" fill="#b22222"/>
<circle cx="398.8" cy="476.6" r="2.7" fill="#b22222"/>
<circle cx="405.8" cy="476.2" r="2.7" fill="#b22222"/>
<circle cx="412.8" cy="482.4" r="2.7" fill="#b22222"/>
<circle cx="419.9" cy="482.4" r="2.7" fill="#b22222"/>
<circle cx="426.9" cy="492.2" r="2.7" fill="#b22222"/>
<circle cx="433.9" cy="464.7" r="2.7" fill="#b22222"/>
<circle cx="441.0" cy="452.9" r="2.7" fill="#b22222"/>
<circle cx="448.0" cy="451.6" r="2.7" fill="#b22222"/>
<circle cx="455.0" cy="451.6" r="2.7" fill="#b22222"/>
<circle cx="462.1" cy="452.3" r="2.7" fill="#b22222"/>
<circle cx="469.1" cy="461.5" r="2.7" fill="#b22222"/>
<circle cx="476.1" cy="454.2" r="2.7" fill="#b22222"/>
<circle cx="483.2" cy="464.7" r="2.7" fill="#b22222"/>
<circle cx="490.2" cy="474.1" r="2.7" fill="#b22222"/>
<circle cx="497.2" cy="478.8" r="2.7" fill="#b22222"/>
<circle cx="504.3" cy="478.5" r="2.7" fill="#b22222"/>
<circle cx="511.3" cy="475.6" r="2.7" fill="#b22222"/>
<circle cx="518.4" cy="455.2" r="2.7" fill="#b22222"/>
<circle cx="525.4" cy="474.1" r="2.7" fill="#b22222"/>
<circle cx="532.4" cy="475.6" r="2.7" fill="#b22222"/>
<circle cx="539.5" cy="472.8" r="2.7" fill="#b22222"/>
<circle cx="546.5" cy="474.1" r="2.7" fill="#b22222"/>
<circle cx="553.5" cy="473.2" r="2.7" fill="#b22222"/>
<circle cx="560.6" cy="474.9" r="2.7" fill="#b22222"/>
<circle cx="567.6" cy="474.4" r="2.7" fill="#b22222"/>
<circle cx="574.6" cy="474.1" r="2.7" fill="#b22222"/>
<circle cx="581.7" cy="474.7" r="2.7" fill="#b22222"/>
<circle cx="588.7" cy="473.2" r="2.7" fill="#b22222"/>
<circle cx="595.7" cy="474.1" r="2.7" fill="#b22222"/>
<circle cx="602.8" cy="476.2" r="2.7" fill="#b22222"/>
<circle cx="609.8" cy="474.1" r="2.7" fill="#b22222"/>
<circle cx="616.8" cy="468.5" r="2.7" fill="#b22222"/>
<circle cx="623.9" cy="466.4" r="2.7" fill="#b22222"/>
<circle cx="630.9" cy="465.5" r="2.7" fill="#b22222"/>
<circle cx="637.9" cy="464.7" r="2.7" fill="#b22222"/>
<circle cx="645.0" cy="464.7" r="2.7" fill="#b22222"/>
<circle cx="652.0" cy="463.8" r="2.7" fill="#b22222"/>
<circle cx="659.0" cy="460.4" r="2.7" fill="#b22222"/>
<circle cx="666.1" cy="460.4" r="2.7" fill="#b22222"/>
<circle cx="673.1" cy="458.3" r="2.7" fill="#b22222"/>
<circle cx="680.1" cy="460.4" r="2.7" fill="#b22222"/>
<circle cx="687.2" cy="463.8" r="2.7" fill="#b22222"/>
<circle cx="694.2" cy="462.5" r="2.7" fill="#b22222"/>
<circle cx="701.2" cy="459.3" r="2.7" fill="#b22222"/>
<circle cx="708.3" cy="459.3" r="2.7" fill="#b22222"/>
<circle cx="715.3" cy="459.6" r="2.7" fill="#b22222"/>
<circle cx="722.3" cy="460.4" r="2.7" fill="#b22222"/>
<circle cx="729.4" cy="461.6" r="2.7" fill="#b22222"/>
<circle cx="736.4" cy="462.5" r="2.7" fill="#b22222"/>
<circle cx="743.4" cy="462.5" r="2.7" fill="#b22222"/>
<circle cx="750.5" cy="461.6" r="2.7" fill="#b22222"/>
<circle cx="757.5" cy="462.5" r="2.7" fill="#b22222"/>
<circle cx="342.5" cy="509.3" r="2.7" fill="#000000"/>
<circle cx="349.5" cy="511.2" r="2.7" fill="#ffffff"/>
<circle cx="349.5" cy="506.0" r="2.7" fill="#cfcfcf"/>
<circle cx="349.5" cy="499.7" r="2.7" fill="#a0a0a0"/>
<circle cx="349.5" cy="494.5" r="2.7" fill="#000000"/>
<circle cx="356.6" cy="511.2" r="2.7" fill="#ffffff"/>
<circle cx="356.6" cy="496.5" r="2.7" fill="#a0a0a0"/>
<circle cx="356.6" cy="493.5" r="2.7" fill="#606060"/>
<circle cx="356.6" cy="491.0" r="2.7" fill="#000000"/>
<circle cx="363.6" cy="510.9" r="2.7" fill="#ffffff"/>
<circle cx="363.6" cy="490.0" r="2.7" fill="#cfcfcf"/>
<circle cx="363.6" cy="487.5" r="2.7" fill="#a0a0a0"/>
<circle cx="363.6" cy="485.5" r="2.7" fill="#606060"/>
<circle cx="363.6" cy="483.4" r="2.7" fill="#000000"/>
<circle cx="370.6" cy="505.0" r="2.7" fill="#ffffff"/>
<circle cx="370.6" cy="491.5" r="2.7" fill="#cfcfcf"/>
<circle cx="370.6" cy="489.5" r="2.7" fill="#a0a0a0"/>
<circle cx="370.6" cy="488.0" r="2.7" fill="#606060"/>
<circle cx="370.6" cy="486.6" r="2.7" fill="#000000"/>
<circle cx="377.7" cy="510.5" r="2.7" fill="#ffffff"/>
<circle cx="377.7" cy="494.5" r="2.7" fill="#cfcfcf"/>
<circle cx="377.7" cy="493.0" r="2.7" fill="#a0a0a0"/>
<circle cx="377.7" cy="491.3" r="2.7" fill="#606060"/>
<circle cx="377.7" cy="489.7" r="2.7" fill="#000000"/>
<circle cx="384.7" cy="511.2" r="2.7" fill="#ffffff"/>
<circle cx="384.7" cy="498.6" r="2.7" fill="#cfcfcf"/>
<circle cx="384.7" cy="494.0" r="2.7" fill="#a0a0a0"/>
<circle cx="384.7" cy="492.5" r="2.7" fill="#606060"/>
<circle cx="384.7" cy="491.0" r="2.7" fill="#000000"/>
<circle cx="391.7" cy="510.3" r="2.7" fill="#ffffff"/>
<circle cx="391.7" cy="496.5" r="2.7" fill="#a0a0a0"/>
<circle cx="391.7" cy="492.2" r="2.7" fill="#606060"/>
<circle cx="391.7" cy="486.6" r="2.7" fill="#000000"/>
<circle cx="398.8" cy="508.2" r="2.7" fill="#ffffff"/>
<circle cx="398.8" cy="494.0" r="2.7" fill="#a0a0a0"/>
<circle cx="398.8" cy="492.5" r="2.7" fill="#606060"/>
<circle cx="398.8" cy="491.0" r="2.7" fill="#000000"/>
<circle cx="405.8" cy="501.3" r="2.7" fill="#ffffff"/>
<circle cx="405.8" cy="493.0" r="2.7" fill="#cfcfcf"/>
<circle cx="405.8" cy="492.0" r="2.7" fill="#a0a0a0"/>
<circle cx="405.8" cy="489.5" r="2.7" fill="#606060"/>
<circle cx="405.8" cy="486.6" r="2.7" fill="#000000"/>
<circle cx="412.8" cy="499.7" r="2.7" fill="#ffffff"/>
<circle cx="412.8" cy="492.2" r="2.7" fill="#cfcfcf"/>
<circle cx="412.8" cy="487.5" r="2.7" fill="#a0a0a0"/>
<circle cx="412.8" cy="483.0" r="2.7" fill="#606060"/>
<circle cx="419.9" cy="510.5" r="2.7" fill="#ffffff"/>
<circle cx="419.9" cy="494.5" r="2.7" fill="#a0a0a0"/>
<circle cx="426.9" cy="503.8" r="2.7" fill="#ffffff"/>
<circle cx="426.9" cy="496.5" r="2.7" fill="#cfcfcf"/>
<circle cx="433.9" cy="504.1" r="2.7" fill="#ffffff"/>
<circle cx="433.9" cy="493.3" r="2.7" fill="#cfcfcf"/>
<circle cx="441.0" cy="508.2" r="2.7" fill="#ffffff"/>
<circle cx="441.0" cy="503.2" r="2.7" fill="#cfcfcf"/>
<circle cx="448.0" cy="505.7" r="2.7" fill="#ffffff"/>
<circle cx="448.0" cy="471.5" r="2.7" fill="#cfcfcf"/>
<circle cx="448.0" cy="469.6" r="2.7" fill="#a0a0a0"/>
<circle cx="455.0" cy="501.6" r="2.7" fill="#ffffff"/>
<circle cx="455.0" cy="472.5" r="2.7" fill="#cfcfcf"/>
<circle cx="455.0" cy="470.6" r="2.7" fill="#a0a0a0"/>
<circle cx="462.1" cy="503.8" r="2.7" fill="#ffffff"/>
<circle cx="462.1" cy="495.6" r="2.7" fill="#a0a0a0"/>
<circle cx="469.1" cy="507.3" r="2.7" fill="#ffffff"/>
<circle cx="469.1" cy="501.6" r="2.7" fill="#a0a0a0"/>
<circle cx="469.1" cy="496.2" r="2.7" fill="#606060"/>
<circle cx="476.1" cy="508.6" r="2.7" fill="#ffffff"/>
<circle cx="476.1" cy="504.8" r="2.7" fill="#cfcfcf"/>
<circle cx="476.1" cy="500.9" r="2.7" fill="#a0a0a0"/>
<circle cx="476.1" cy="498.5" r="2.7" fill="#606060"/>
<circle cx="476.1" cy="495.2" r="2.7" fill="#000000"/>
<circle cx="483.2" cy="509.9" r="2.7" fill="#ffffff"/>
<circle cx="483.2" cy="507.0" r="2.7" fill="#cfcfcf"/>
<circle cx="483.2" cy="504.0" r="2.7" fill="#a0a0a0"/>
<circle cx="483.2" cy="501.0" r="2.7" fill="#606060"/>
<circle cx="483.2" cy="498.4" r="2.7" fill="#000000"/>
<circle cx="490.2" cy="509.9" r="2.7" fill="#ffffff"/>
<circle cx="490.2" cy="507.0" r="2.7" fill="#cfcfcf"/>
<circle cx="490.2" cy="504.0" r="2.7" fill="#a0a0a0"/>
<circle cx="490.2" cy="501.5" r="2.7" fill="#606060"/>
<circle cx="490.2" cy="498.6" r="2.7" fill="#000000"/>
<circle cx="497.2" cy="510.5" r="2.7" fill="#ffffff"/>
<circle cx="497.2" cy="508.5" r="2.7" fill="#cfcfcf"/>
<circle cx="497.2" cy="506.5" r="2.7" fill="#a0a0a0"/>
<circle cx="497.2" cy="504.5" r="2.7" fill="#606060"/>
<circle cx="497.2" cy="502.9" r="2.7" fill="#000000"/>
<circle cx="504.3" cy="510.5" r="2.7" fill="#ffffff"/>
<circle cx="504.3" cy="507.5" r="2.7" fill="#cfcfcf"/>
<circle cx="504.3" cy="505.5" r="2.7" fill="#a0a0a0"/>
<circle cx="504.3" cy="503.5" r="2.7" fill="#606060"/>
<circle cx="504.3" cy="493.3" r="2.7" fill="#000000"/>
<circle cx="511.3" cy="511.2" r="2.7" fill="#ffffff"/>
<circle cx="511.3" cy="509.5" r="2.7" fill="#cfcfcf"/>
<circle cx="511.3" cy="508.0" r="2.7" fill="#a0a0a0"/>
<circle cx="511.3" cy="506.5" r="2.7" fill="#606060"/>
<circle cx="511.3" cy="505.4" r="2.7" fill="#000000"/>
<circle cx="518.4" cy="510.5" r="2.7" fill="#ffffff"/>
<circle cx="518.4" cy="508.5" r="2.7" fill="#cfcfcf"/>
<circle cx="518.4" cy="507.0" r="2.7" fill="#a0a0a0"/>
<circle cx="518.4" cy="506.0" r="2.7" fill="#606060"/>
<circle cx="518.4" cy="501.2" r="2.7" fill="#000000"/>
<circle cx="525.4" cy="510.5" r="2.7" fill="#ffffff"/>
<circle cx="525.4" cy="508.5" r="2.7" fill="#cfcfcf"/>
<circle cx="525.4" cy="507.0" r="2.7" fill="#a0a0a0"/>
<circle cx="525.4" cy="505.0" r="2.7" fill="#606060"/>
<circle cx="525.4" cy="503.1" r="2.7" fill="#000000"/>
<circle cx="532.4" cy="509.3" r="2.7" fill="#ffffff"/>
<circle cx="532.4" cy="508.0" r="2.7" fill="#cfcfcf"/>
<circle cx="532.4" cy="503.5" r="2.7" fill="#a0a0a0"/>
<circle cx="532.4" cy="484.7" r="2.7" fill="#000000"/>
<circle cx="539.5" cy="508.6" r="2.7" fill="#ffffff"/>
<circle cx="539.5" cy="502.2" r="2.7" fill="#cfcfcf"/>
<circle cx="539.5" cy="497.1" r="2.7" fill="#a0a0a0"/>
<circle cx="539.5" cy="493.3" r="2.7" fill="#606060"/>
<circle cx="539.5" cy="486.6" r="2.7" fill="#000000"/>
<circle cx="546.5" cy="509.0" r="2.7" fill="#ffffff"/>
<circle cx="546.5" cy="492.6" r="2.7" fill="#cfcfcf"/>
<circle cx="546.5" cy="488.8" r="2.7" fill="#a0a0a0"/>
<circle cx="546.5" cy="484.7" r="2.7" fill="#000000"/>
<circle cx="553.5" cy="506.7" r="2.7" fill="#ffffff"/>
<circle cx="553.5" cy="493.3" r="2.7" fill="#cfcfcf"/>
<circle cx="553.5" cy="487.5" r="2.7" fill="#a0a0a0"/>
<circle cx="553.5" cy="483.6" r="2.7" fill="#606060"/>
<circle cx="553.5" cy="479.8" r="2.7" fill="#000000"/>
<circle cx="560.6" cy="506.7" r="2.7" fill="#ffffff"/>
<circle cx="560.6" cy="493.3" r="2.7" fill="#cfcfcf"/>
<circle cx="560.6" cy="487.9" r="2.7" fill="#a0a0a0"/>
<circle cx="560.6" cy="479.6" r="2.7" fill="#000000"/>
<circle cx="567.6" cy="510.5" r="2.7" fill="#ffffff"/>
<circle cx="567.6" cy="493.3" r="2.7" fill="#cfcfcf"/>
<circle cx="567.6" cy="481.1" r="2.7" fill="#a0a0a0"/>
<circle cx="567.6" cy="477.6" r="2.7" fill="#000000"/>
<circle cx="574.6" cy="511.2" r="2.7" fill="#ffffff"/>
<circle cx="574.6" cy="494.5" r="2.7" fill="#cfcfcf"/>
<circle cx="574.6" cy="490.0" r="2.7" fill="#606060"/>
<circle cx="574.6" cy="486.2" r="2.7" fill="#000000"/>
<circle cx="581.7" cy="510.5" r="2.7" fill="#ffffff"/>
<circle cx="581.7" cy="493.9" r="2.7" fill="#cfcfcf"/>
<circle cx="581.7" cy="492.0" r="2.7" fill="#a0a0a0"/>
<circle cx="581.7" cy="487.9" r="2.7" fill="#606060"/>
<circle cx="588.7" cy="511.2" r="2.7" fill="#ffffff"/>
<circle cx="588.7" cy="477.9" r="2.7" fill="#ffffff"/>
<circle cx="595.7" cy="492.4" r="2.7" fill="#ffffff"/>
<circle cx="602.8" cy="493.5" r="2.7" fill="#ffffff"/>
<circle cx="609.8" cy="497.1" r="2.7" fill="#ffffff"/>
<circle cx="609.8" cy="491.0" r="2.7" fill="#cfcfcf"/>
<circle cx="609.8" cy="484.7" r="2.7" fill="#a0a0a0"/>
<circle cx="616.8" cy="510.5" r="2.7" fill="#000000"/>
<circle cx="623.9" cy="510.5" r="2.7" fill="#000000"/>
<circle cx="630.9" cy="510.5" r="2.7" fill="#000000"/>
<circle cx="637.9" cy="510.9" r="2.7" fill="#000000"/>
<circle cx="645.0" cy="510.3" r="2.7" fill="#000000"/>
<circle cx="652.0" cy="509.9" r="2.7" fill="#000000"/>
<circle cx="659.0" cy="510.9" r="2.7" fill="#000000"/>
<circle cx="666.1" cy="510.5" r="2.7" fill="#000000"/>
<circle cx="673.1" cy="510.5" r="2.7" fill="#000000"/>
<circle cx="680.1" cy="510.9" r="2.7" fill="#000000"/>
<circle cx="687.2" cy="510.9" r="2.7" fill="#000000"/>
<circle cx="694.2" cy="510.9" r="2.7" fill="#909090"/>
<circle cx="701.2" cy="510.5" r="2.7" fill="#000000"/>
<circle cx="708.3" cy="510.5" r="2.7" fill="#000000"/>
<circle cx="715.3" cy="510.9" r="2.7" fill="#000000"/>
<circle cx="722.3" cy="505.2" r="2.7" fill="#ffffff"/>
<circle cx="722.3" cy="479.2" r="2.7" fill="#cfcfcf"/>
<circle cx="722.3" cy="476.6" r="2.7" fill="#a0a0a0"/>
<circle cx="722.3" cy="472.1" r="2.7" fill="#606060"/>
<circle cx="722.3" cy="468.5" r="2.7" fill="#000000"/>
<circle cx="729.4" cy="510.3" r="2.7" fill="#ffffff"/>
<circle cx="729.4" cy="476.0" r="2.7" fill="#a0a0a0"/>
<circle cx="729.4" cy="472.4" r="2.7" fill="#000000"/>
<circle cx="736.4" cy="511.2" r="2.7" fill="#ffffff"/>
<circle cx="736.4" cy="499.0" r="2.7" fill="#cfcfcf"/>
<circle cx="736.4" cy="493.3" r="2.7" fill="#a0a0a0"/>
<circle cx="736.4" cy="473.4" r="2.7" fill="#606060"/>
<circle cx="743.4" cy="508.0" r="2.7" fill="#ffffff"/>
<circle cx="743.4" cy="472.8" r="2.7" fill="#a0a0a0"/>
<circle cx="743.4" cy="470.9" r="2.7" fill="#606060"/>
<circle cx="750.5" cy="508.6" r="2.7" fill="#ffffff"/>
<circle cx="750.5" cy="504.8" r="2.7" fill="#cfcfcf"/>
<circle cx="750.5" cy="472.8" r="2.7" fill="#606060"/>
<circle cx="750.5" cy="469.8" r="2.7" fill="#000000"/>
<circle cx="757.5" cy="509.3" r="2.7" fill="#ffffff"/>
<circle cx="757.5" cy="501.6" r="2.7" fill="#a0a0a0"/>
<circle cx="757.5" cy="493.3" r="2.7" fill="#606060"/>
<circle cx="757.5" cy="472.1" r="2.7" fill="#000000"/>
<polyline points="342.5,472.1 349.5,470.6 356.6,458.7 363.6,451.0 370.6,446.8 377.7,446.5 384.7,456.1 391.7,457.0 398.8,448.8 405.8,449.1 412.8,449.1 419.9,450.4 426.9,450.7 433.9,451.3 441.0,452.9 448.0,452.7 455.0,454.0 462.1,454.8 469.1,455.9 476.1,456.8 483.2,457.8 490.2,458.4 497.2,469.6 504.3,470.2 511.3,474.1 518.4,461.9 525.4,470.2 532.4,457.4 539.5,469.6 546.5,460.0 553.5,467.7 560.6,450.6 567.6,451.0 574.6,451.4 581.7,449.7 588.7,452.9 595.7,447.5 602.8,447.5 609.8,447.8 616.8,513.1 623.9,498.4 630.9,514.4 637.9,515.0 645.0,513.7 652.0,502.9 659.0,505.2 666.1,515.0 673.1,515.7 680.1,515.7 687.2,515.0 694.2,458.0 701.2,504.1 708.3,515.0 715.3,515.0 722.3,449.3 729.4,455.2 736.4,454.0 743.4,452.3 750.5,452.7 757.5,451.6" fill="none" stroke="#ff9900" stroke-width="2" stroke-linejoin="round"/>
</g>
<g opacity="0.55" stroke="#000" stroke-width="1" stroke-dasharray="2,2" shape-rendering="crispEdges" fill="none"><line x1="356.5" y1="437.5" x2="356.5" y2="516.5"/><line x1="377.5" y1="437.5" x2="377.5" y2="516.5"/><line x1="398.5" y1="437.5" x2="398.5" y2="516.5"/><line x1="419.5" y1="437.5" x2="419.5" y2="516.5"/><line x1="440.5" y1="437.5" x2="440.5" y2="516.5"/><line x1="462.5" y1="437.5" x2="462.5" y2="516.5"/><line x1="483.5" y1="437.5" x2="483.5" y2="516.5"/><line x1="504.5" y1="437.5" x2="504.5" y2="516.5"/><line x1="525.5" y1="437.5" x2="525.5" y2="516.5"/><line x1="546.5" y1="437.5" x2="546.5" y2="516.5"/><line x1="567.5" y1="437.5" x2="567.5" y2="516.5"/><line x1="588.5" y1="437.5" x2="588.5" y2="516.5"/><line x1="609.5" y1="437.5" x2="609.5" y2="516.5"/><line x1="630.5" y1="437.5" x2="630.5" y2="516.5"/><line x1="651.5" y1="437.5" x2="651.5" y2="516.5"/><line x1="673.5" y1="437.5" x2="673.5" y2="516.5"/><line x1="694.5" y1="437.5" x2="694.5" y2="516.5"/><line x1="715.5" y1="437.5" x2="715.5" y2="516.5"/><line x1="736.5" y1="437.5" x2="736.5" y2="516.5"/><line x1="342.5" y1="438.5" x2="757.5" y2="438.5"/><line x1="342.5" y1="457.5" x2="757.5" y2="457.5"/><line x1="342.5" y1="476.5" x2="757.5" y2="476.5"/><line x1="342.5" y1="496.5" x2="757.5" y2="496.5"/></g>
<g shape-rendering="crispEdges" fill="none" stroke-width="1"><line x1="342.0" y1="436.5" x2="758.0" y2="436.5" stroke="#777"/><rect x="342.5" y="437.5" width="415.0" height="79.0" stroke="#000"/></g>
<clipPath id="c7"><rect x="342.5" y="525.5" width="416.0" height="78.0"/></clipPath>
<rect x="342.5" y="525.5" width="416.0" height="78.0" fill="#87d7ff"/>
<rect x="394.1" y="525.5" width="116.2" height="78.0" fill="#80c4f0"/>
<rect x="562.9" y="525.5" width="116.0" height="78.0" fill="#80c4f0"/>
<rect x="731.6" y="525.5" width="26.4" height="78.0" fill="#80c4f0"/>
<g clip-path="url(#c7)">
<polygon points="426.8,604.0 426.8,602.7 433.3,592.0 440.8,573.7 447.3,555.4 454.8,550.0 462.3,549.0 466.6,555.4 471.0,560.0 483.8,588.8 495.0,601.7 504.9,602.5 511.3,590.9 517.3,600.6 519.4,599.5 525.3,575.3 532.3,602.2 534.5,601.7 539.8,590.4 546.8,593.6 553.8,595.8 560.3,588.8 567.7,599.6 574.3,572.3 581.7,592.0 588.3,593.2 595.7,602.4 602.7,601.5 609.7,583.0 612.0,553.8 615.0,540.0 618.4,536.6 624.1,543.0 629.8,529.6 635.5,541.0 641.9,543.0 648.3,547.4 658.4,553.8 661.0,551.3 664.8,529.6 671.2,525.8 680.0,525.8 689.5,537.3 694.0,583.1 701.6,570.4 706.7,547.4 710.5,542.4 715.6,537.3 722.0,536.0 729.6,545.5 736.0,547.4 743.6,571.6 750.6,553.8 757.6,533.5 757.6,604.0" fill="#8e8e8e" opacity="1"/>
<polygon points="342.5,604.0 342.5,525.8 349.5,527.1 356.6,529.7 363.6,554.7 370.6,534.8 377.7,527.1 384.7,525.8 391.7,539.3 398.8,525.8 405.8,526.9 412.8,555.3 415.0,565.0 419.3,577.0 425.8,584.5 431.1,592.0 432.5,594.0 440.8,574.5 448.3,601.5 454.8,601.5 462.3,570.5 466.6,555.4 469.0,545.0 476.1,529.7 483.2,526.5 490.3,526.0 518.4,526.9 525.4,528.4 528.5,535.0 532.5,545.0 539.3,560.3 546.8,554.9 553.8,554.9 560.3,549.7 567.7,578.0 574.3,554.4 581.7,589.4 588.3,593.2 595.7,602.4 602.7,599.6 609.7,583.0 613.8,553.8 616.7,540.0 620.0,554.0 624.0,566.0 630.5,537.0 635.5,557.6 642.0,572.9 648.3,565.3 658.4,560.0 664.8,529.6 671.2,525.8 680.0,525.8 687.0,526.0 689.5,529.6 695.3,583.1 701.6,572.9 706.7,547.4 710.5,542.4 719.4,572.9 723.3,595.8 729.6,594.5 736.0,585.6 743.6,590.7 750.6,578.0 757.6,571.6 757.6,604.0" fill="#555555" opacity="1"/>
<polygon points="342.5,604.0 342.5,564.3 349.5,597.5 356.6,602.0 356.6,604.0" fill="#3a3a3a" opacity="1"/>
<polygon points="475.2,604.0 475.2,602.7 483.8,585.5 490.3,581.2 496.8,580.2 503.3,582.3 510.8,572.6 517.8,568.9 524.8,572.1 528.0,585.5 532.3,597.4 538.8,602.7 538.8,604.0" fill="#3a3a3a" opacity="1"/>
<polygon points="605.0,604.0 605.0,598.3 610.1,593.2 618.4,588.2 624.1,598.3 630.5,566.5 636.0,580.0 642.0,600.0 648.0,590.0 655.0,575.0 660.0,560.0 664.8,531.0 671.2,527.0 680.0,527.0 689.0,535.0 692.7,602.0 695.3,593.2 703.0,575.0 708.0,585.0 712.0,602.0 712.0,604.0" fill="#3a3a3a" opacity="1"/>
<polyline points="426.8,602.7 433.3,592.0 440.8,573.7 447.3,555.4 454.8,550.0 462.3,549.0 466.6,555.4 471.0,560.0 483.8,588.8 495.0,601.7 504.9,602.5 511.3,590.9 517.3,600.6 519.4,599.5 525.3,575.3 532.3,602.2 534.5,601.7 539.8,590.4 546.8,593.6 553.8,595.8 560.3,588.8 567.7,599.6 574.3,572.3 581.7,592.0 588.3,593.2 595.7,602.4 602.7,601.5 609.7,583.0 612.0,553.8 615.0,540.0 618.4,536.6 624.1,543.0 629.8,529.6 635.5,541.0 641.9,543.0 648.3,547.4 658.4,553.8 661.0,551.3 664.8,529.6 671.2,525.8 680.0,525.8 689.5,537.3 694.0,583.1 701.6,570.4 706.7,547.4 710.5,542.4 715.6,537.3 722.0,536.0 729.6,545.5 736.0,547.4 743.6,571.6 750.6,553.8 757.6,533.5" fill="none" stroke="#a8a8a8" stroke-width="0.9"/>
<polyline points="689.5,537.3 694.0,593.2 700.4,593.2 706.7,553.8" fill="none" stroke="#a8a8a8" stroke-width="0.9"/>
<polyline points="342.5,602.8 356.6,602.4 377.7,601.4 391.7,602.4 425.8,602.7 434.4,602.2 440.8,592.0 455.3,566.7 461.8,570.0 468.8,593.6 476.3,599.0 486.0,602.5 505.4,602.5 519.4,600.0 532.3,602.5 651.4,602.4 658.4,580.0 666.5,545.0 671.5,528.0 676.0,540.0 680.0,570.4 685.1,598.3 687.6,602.4 694.0,598.3 701.6,596.4 706.7,593.2 711.8,564.0 716.9,545.5 722.0,539.8 729.6,576.7 736.0,599.6 743.6,599.6 750.6,578.0 756.3,583.7" fill="none" stroke="#ffffff" stroke-width="1.1"/>
<rect x="615.2" y="528.8" width="2.8" height="76.7" rx="1.2" fill="#ffb400"/>
<rect x="629.3" y="526.5" width="2.8" height="79.0" rx="1.2" fill="#ffb400"/>
<rect x="636.3" y="526.5" width="2.8" height="79.0" rx="1.2" fill="#ffb400"/>
<rect x="643.4" y="526.5" width="2.8" height="79.0" rx="1.2" fill="#ffb400"/>
<rect x="650.4" y="602.0" width="2.8" height="3.5" rx="1.2" fill="#ffb400"/>
<rect x="657.4" y="568.9" width="2.8" height="36.6" rx="1.2" fill="#ffb400"/>
<rect x="664.5" y="526.5" width="2.8" height="79.0" rx="1.2" fill="#ffb400"/>
<rect x="671.5" y="526.5" width="2.8" height="79.0" rx="1.2" fill="#ffb400"/>
<rect x="678.5" y="526.5" width="2.8" height="79.0" rx="1.2" fill="#ffb400"/>
<rect x="685.6" y="526.5" width="2.8" height="79.0" rx="1.2" fill="#ffb400"/>
<rect x="699.6" y="590.4" width="2.8" height="15.1" rx="1.2" fill="#ffb400"/>
<rect x="706.7" y="526.5" width="2.8" height="79.0" rx="1.2" fill="#ffb400"/>
<rect x="713.7" y="526.5" width="2.8" height="79.0" rx="1.2" fill="#ffb400"/>
</g>
<g stroke="#000" stroke-width="1" stroke-dasharray="2,2" shape-rendering="crispEdges" fill="none"><line x1="356.5" y1="525.5" x2="356.5" y2="603.5"/><line x1="377.5" y1="525.5" x2="377.5" y2="603.5"/><line x1="398.5" y1="525.5" x2="398.5" y2="603.5"/><line x1="419.5" y1="525.5" x2="419.5" y2="603.5"/><line x1="440.5" y1="525.5" x2="440.5" y2="603.5"/><line x1="462.5" y1="525.5" x2="462.5" y2="603.5"/><line x1="483.5" y1="525.5" x2="483.5" y2="603.5"/><line x1="504.5" y1="525.5" x2="504.5" y2="603.5"/><line x1="525.5" y1="525.5" x2="525.5" y2="603.5"/><line x1="546.5" y1="525.5" x2="546.5" y2="603.5"/><line x1="567.5" y1="525.5" x2="567.5" y2="603.5"/><line x1="588.5" y1="525.5" x2="588.5" y2="603.5"/><line x1="609.5" y1="525.5" x2="609.5" y2="603.5"/><line x1="630.5" y1="525.5" x2="630.5" y2="603.5"/><line x1="651.5" y1="525.5" x2="651.5" y2="603.5"/><line x1="673.5" y1="525.5" x2="673.5" y2="603.5"/><line x1="694.5" y1="525.5" x2="694.5" y2="603.5"/><line x1="715.5" y1="525.5" x2="715.5" y2="603.5"/><line x1="736.5" y1="525.5" x2="736.5" y2="603.5"/><line x1="342.5" y1="545.5" x2="757.5" y2="545.5"/><line x1="342.5" y1="564.5" x2="757.5" y2="564.5"/><line x1="342.5" y1="584.5" x2="757.5" y2="584.5"/></g>
<g shape-rendering="crispEdges" fill="none" stroke-width="1"><line x1="342.0" y1="524.5" x2="758.0" y2="524.5" stroke="#777"/><rect x="342.5" y="525.5" width="415.0" height="78.0" stroke="#000"/></g>
<g font-family="'Liberation Sans', sans-serif">
<text x="338.1" y="82.4" text-anchor="end" fill="#000" font-size="12">0</text>
<text x="338.1" y="106.4" text-anchor="end" fill="#000" font-size="12">-5</text>
<text x="338.1" y="130.6" text-anchor="end" fill="#000" font-size="12">-10</text>
<text x="338.1" y="150.6" text-anchor="end" fill="#000" font-size="12">10</text>
<text x="338.1" y="165.6" text-anchor="end" fill="#000" font-size="12">8</text>
<text x="338.1" y="180.6" text-anchor="end" fill="#000" font-size="12">6</text>
<text x="338.1" y="195.6" text-anchor="end" fill="#000" font-size="12">4</text>
<text x="338.1" y="210.6" text-anchor="end" fill="#000" font-size="12">2</text>
<text x="338.1" y="225.6" text-anchor="end" fill="#000" font-size="12">0</text>
<text x="338.1" y="246.8" text-anchor="end" fill="#000" font-size="12">1015</text>
<text x="338.1" y="267.6" text-anchor="end" fill="#000" font-size="12">1010</text>
<text x="338.1" y="288.4" text-anchor="end" fill="#000" font-size="12">1005</text>
<text x="338.1" y="308.9" text-anchor="end" fill="#000" font-size="12">1000</text>
<text x="338.1" y="323.2" text-anchor="end" fill="#000" font-size="12">25</text>
<text x="338.1" y="338.5" text-anchor="end" fill="#000" font-size="12">20</text>
<text x="338.1" y="353.9" text-anchor="end" fill="#000" font-size="12">15</text>
<text x="338.1" y="368.8" text-anchor="end" fill="#000" font-size="12">10</text>
<text x="338.1" y="384.5" text-anchor="end" fill="#000" font-size="12">5</text>
<text x="338.1" y="399.8" text-anchor="end" fill="#000" font-size="12">0</text>
<text x="338.1" y="442.0" text-anchor="end" fill="#000" font-size="12">15.0</text>
<text x="338.1" y="461.7" text-anchor="end" fill="#000" font-size="12">7.0</text>
<text x="338.1" y="481.3" text-anchor="end" fill="#000" font-size="12">2.0</text>
<text x="338.1" y="500.8" text-anchor="end" fill="#000" font-size="12">0.5</text>
<text x="338.1" y="520.4" text-anchor="end" fill="#000" font-size="12">0.0</text>
<text x="338.1" y="530.0" text-anchor="end" fill="#000" font-size="12">8</text>
<text x="338.1" y="549.7" text-anchor="end" fill="#000" font-size="12">6</text>
<text x="338.1" y="568.6" text-anchor="end" fill="#000" font-size="12">4</text>
<text x="338.1" y="588.7" text-anchor="end" fill="#000" font-size="12">2</text>
<text x="338.1" y="607.3" text-anchor="end" fill="#000" font-size="12">0</text>
<text x="769.5" y="82.4" text-anchor="middle" fill="#000" font-size="12">0</text>
<text x="769.5" y="106.4" text-anchor="middle" fill="#000" font-size="12">-5</text>
<text x="769.5" y="130.6" text-anchor="middle" fill="#000" font-size="12">-10</text>
<text x="770.5" y="150.6" text-anchor="middle" fill="#e8501a" font-size="12">100</text>
<text x="770.5" y="165.6" text-anchor="middle" fill="#e8501a" font-size="12">90</text>
<text x="770.5" y="180.6" text-anchor="middle" fill="#e8501a" font-size="12">80</text>
<text x="770.5" y="195.6" text-anchor="middle" fill="#e8501a" font-size="12">70</text>
<text x="770.5" y="210.7" text-anchor="middle" fill="#e8501a" font-size="12">60</text>
<text x="770.5" y="225.6" text-anchor="middle" fill="#e8501a" font-size="12">50</text>
<text x="761.5" y="246.8" fill="#000" font-size="12">761</text>
<text x="761.5" y="267.2" fill="#000" font-size="12">758</text>
<text x="761.5" y="288.2" fill="#000" font-size="12">754</text>
<text x="761.5" y="308.8" fill="#000" font-size="12">750</text>
<text x="761.5" y="322.6" fill="#000" font-size="12">90</text>
<text x="761.5" y="337.6" fill="#000" font-size="12">72</text>
<text x="761.5" y="353.2" fill="#000" font-size="12">54</text>
<text x="761.5" y="368.5" fill="#000" font-size="12">36</text>
<text x="761.5" y="383.9" fill="#000" font-size="12">18</text>
<text x="768.3" y="398.6" text-anchor="middle" fill="#000" font-size="12">0</text>
<text x="761.5" y="441.6" fill="#ff8800" font-size="12">100</text>
<text x="761.5" y="461.4" fill="#ff8800" font-size="12">20</text>
<text x="761.5" y="480.9" fill="#ff8800" font-size="12">5</text>
<text x="761.5" y="500.5" fill="#ff8800" font-size="12">1</text>
<text x="761.5" y="519.2" fill="#ff8800" font-size="12">0</text>
<text x="761.5" y="529.3" fill="#ff8800" font-size="12">1</text>
<text x="761.5" y="548.8" fill="#ff8800" font-size="12">0.75</text>
<text x="761.5" y="568.2" fill="#ff8800" font-size="12">0.5</text>
<text x="761.5" y="587.6" fill="#ff8800" font-size="12">0.25</text>
<text x="761.5" y="606.9" fill="#ff8800" font-size="12">0</text>
<text x="356.9" y="54.4" text-anchor="middle" fill="#000" font-size="12">10</text>
<text x="356.9" y="617.2" text-anchor="middle" fill="#000" font-size="12">09</text>
<text x="399.1" y="54.4" text-anchor="middle" fill="#000" font-size="12">16</text>
<text x="399.1" y="617.2" text-anchor="middle" fill="#000" font-size="12">15</text>
<text x="441.3" y="54.4" text-anchor="middle" fill="#000" font-size="12">22</text>
<text x="441.3" y="617.2" text-anchor="middle" fill="#000" font-size="12">21</text>
<text x="483.5" y="54.4" text-anchor="middle" fill="#000" font-size="12">04</text>
<text x="483.5" y="617.2" text-anchor="middle" fill="#000" font-size="12">03</text>
<text x="525.7" y="54.4" text-anchor="middle" fill="#000" font-size="12">10</text>
<text x="525.7" y="617.2" text-anchor="middle" fill="#000" font-size="12">09</text>
<text x="567.9" y="54.4" text-anchor="middle" fill="#000" font-size="12">16</text>
<text x="567.9" y="617.2" text-anchor="middle" fill="#000" font-size="12">15</text>
<text x="610.1" y="54.4" text-anchor="middle" fill="#000" font-size="12">22</text>
<text x="610.1" y="617.2" text-anchor="middle" fill="#000" font-size="12">21</text>
<text x="652.3" y="54.4" text-anchor="middle" fill="#000" font-size="12">04</text>
<text x="652.3" y="617.2" text-anchor="middle" fill="#000" font-size="12">03</text>
<text x="694.5" y="54.4" text-anchor="middle" fill="#000" font-size="12">10</text>
<text x="694.5" y="617.2" text-anchor="middle" fill="#000" font-size="12">09</text>
<text x="736.7" y="54.4" text-anchor="middle" fill="#000" font-size="12">16</text>
<text x="736.7" y="617.2" text-anchor="middle" fill="#000" font-size="12">15</text>
<text x="306.6" y="54.4" textLength="23.6" lengthAdjust="spacingAndGlyphs" fill="#000" font-size="12">CET</text>
<text x="769.8" y="54.4" textLength="23.6" lengthAdjust="spacingAndGlyphs" fill="#000" font-size="12">CET</text>
<text x="306.6" y="617.2" textLength="23.6" lengthAdjust="spacingAndGlyphs" fill="#000" font-size="12">UTC</text>
<text x="769.8" y="617.2" textLength="23.6" lengthAdjust="spacingAndGlyphs" fill="#000" font-size="12">UTC</text>
<text x="349.8" y="42.0" textLength="55.1" lengthAdjust="spacingAndGlyphs" fill="#000" font-size="12">nie, 28.12</text>
<text x="362.0" y="630.2" textLength="31.8" lengthAdjust="spacingAndGlyphs" fill="#000" font-size="12">28.12</text>
<text x="516.2" y="42.0" textLength="59.9" lengthAdjust="spacingAndGlyphs" fill="#000" font-size="12">pon, 29.12</text>
<text x="530.8" y="630.2" textLength="31.8" lengthAdjust="spacingAndGlyphs" fill="#000" font-size="12">29.12</text>
<text x="685.4" y="42.0" textLength="59.3" lengthAdjust="spacingAndGlyphs" fill="#000" font-size="12">wto, 30.12</text>
<text x="699.6" y="630.2" textLength="31.8" lengthAdjust="spacingAndGlyphs" fill="#000" font-size="12">30.12</text>
<text x="282.4" y="12.6" textLength="145.8" lengthAdjust="spacingAndGlyphs" fill="#00008b" font-size="12">wschód słońca: 07:50 CET</text>
<text x="283.8" y="25.6" textLength="142.4" lengthAdjust="spacingAndGlyphs" fill="#00008b" font-size="12">zachód słońca: 15:20 CET</text>
<text x="487.1" y="12.6" textLength="127.4" lengthAdjust="spacingAndGlyphs" fill="#00008b" font-size="12">21°31'16"E, 53°36'13"N</text>
<text x="509.7" y="25.6" textLength="81.8" lengthAdjust="spacingAndGlyphs" fill="#00008b" font-size="12">(x=258,  y=366)</text>
<text x="659.4" y="12.6" textLength="157.6" lengthAdjust="spacingAndGlyphs" fill="#00008b" font-size="12">wysokość (min, środek, max)</text>
<text x="690.8" y="25.6" textLength="95.4" lengthAdjust="spacingAndGlyphs" fill="#00008b" font-size="12">125 - 147 - 161 m</text>
<text x="300.2" y="652.2" textLength="108.8" lengthAdjust="spacingAndGlyphs" fill="#00008b" font-size="13">meteo@icm.edu.pl</text>
<text x="553.0" y="652.4" textLength="252.5" lengthAdjust="spacingAndGlyphs" fill="#00008b" font-size="13">© 2007-2025 ICM, Uniwersytet Warszawski</text>
<text transform="translate(293.3,96.5) rotate(-90)" text-anchor="middle" textLength="66.0" lengthAdjust="spacingAndGlyphs" fill="#00008b" font-size="12">temperatura</text>
<text transform="translate(305.6,97.0) rotate(-90)" text-anchor="middle" textLength="20.5" lengthAdjust="spacingAndGlyphs" fill="#00008b" font-size="12">(°C)</text>
<text transform="translate(293.3,184.3) rotate(-90)" text-anchor="middle" textLength="27.8" lengthAdjust="spacingAndGlyphs" fill="#00008b" font-size="12">opad</text>
<text transform="translate(305.6,185.0) rotate(-90)" text-anchor="middle" textLength="85.0" lengthAdjust="spacingAndGlyphs" fill="#00008b" font-size="12">(mm/h, kg/m²/h)</text>
<text transform="translate(293.3,272.7) rotate(-90)" text-anchor="middle" textLength="48.8" lengthAdjust="spacingAndGlyphs" fill="#00008b" font-size="12">ciśnienie</text>
<text transform="translate(305.6,272.7) rotate(-90)" text-anchor="middle" textLength="29.0" lengthAdjust="spacingAndGlyphs" fill="#00008b" font-size="12">(hPa)</text>
<text transform="translate(293.3,361.0) rotate(-90)" text-anchor="middle" textLength="26.8" lengthAdjust="spacingAndGlyphs" fill="#00008b" font-size="12">wiatr</text>
<text transform="translate(305.6,361.3) rotate(-90)" text-anchor="middle" textLength="28.7" lengthAdjust="spacingAndGlyphs" fill="#00008b" font-size="12">(m/s)</text>
<text transform="translate(293.3,472.2) rotate(-90)" text-anchor="middle" textLength="107.7" lengthAdjust="spacingAndGlyphs" fill="#00008b" font-size="12">pion. rozciągł. chm.</text>
<text transform="translate(305.6,475.8) rotate(-90)" text-anchor="middle" textLength="25.0" lengthAdjust="spacingAndGlyphs" fill="#00008b" font-size="12">(km)</text>
<text transform="translate(293.3,563.0) rotate(-90)" text-anchor="middle" textLength="74.0" lengthAdjust="spacingAndGlyphs" fill="#00008b" font-size="12">zachmurzenie</text>
<text transform="translate(305.6,558.8) rotate(-90)" text-anchor="middle" textLength="52.3" lengthAdjust="spacingAndGlyphs" fill="#00008b" font-size="12">(oktanty)</text>
<text transform="translate(803.3,96.1) rotate(-90)" text-anchor="middle" textLength="20.5" lengthAdjust="spacingAndGlyphs" fill="#00008b" font-size="12">(°C)</text>
<text transform="translate(815.2,96.8) rotate(-90)" text-anchor="middle" textLength="65.5" lengthAdjust="spacingAndGlyphs" fill="#00008b" font-size="12">temperatura</text>
<text transform="translate(803.3,185.0) rotate(-90)" text-anchor="middle" textLength="18.5" lengthAdjust="spacingAndGlyphs" fill="#00008b" font-size="12">(%)</text>
<text transform="translate(815.2,185.5) rotate(-90)" text-anchor="middle" textLength="90.0" lengthAdjust="spacingAndGlyphs" fill="#00008b" font-size="12">wilgotność wzgl.</text>
<text transform="translate(803.3,273.6) rotate(-90)" text-anchor="middle" textLength="46.9" lengthAdjust="spacingAndGlyphs" fill="#00008b" font-size="12">(mm Hg)</text>
<text transform="translate(815.2,272.7) rotate(-90)" text-anchor="middle" textLength="48.8" lengthAdjust="spacingAndGlyphs" fill="#00008b" font-size="12">ciśnienie</text>
<text transform="translate(803.3,361.6) rotate(-90)" text-anchor="middle" textLength="33.4" lengthAdjust="spacingAndGlyphs" fill="#00008b" font-size="12">(km/h)</text>
<text transform="translate(815.2,360.9) rotate(-90)" text-anchor="middle" textLength="26.0" lengthAdjust="spacingAndGlyphs" fill="#00008b" font-size="12">wiatr</text>
<text transform="translate(803.3,474.5) rotate(-90)" text-anchor="middle" textLength="24.5" lengthAdjust="spacingAndGlyphs" fill="#00008b" font-size="12">(km)</text>
<text transform="translate(815.2,474.5) rotate(-90)" text-anchor="middle" textLength="63.7" lengthAdjust="spacingAndGlyphs" fill="#00008b" font-size="12">widzialność</text>
<text transform="translate(803.3,562.4) rotate(-90)" text-anchor="middle" textLength="42.4" lengthAdjust="spacingAndGlyphs" fill="#00008b" font-size="12">(frakcja)</text>
<text transform="translate(815.2,563.0) rotate(-90)" text-anchor="middle" textLength="26.7" lengthAdjust="spacingAndGlyphs" fill="#00008b" font-size="12">mgła</text>
<text x="807.6" y="411.2" text-anchor="middle" fill="#00008b" font-size="11.3">N</text>
<text x="798.5" y="419.7" text-anchor="middle" fill="#00008b" font-size="11.3">W</text>
<text x="814.2" y="419.7" text-anchor="middle" fill="#00008b" font-size="11.3">E</text>
<text x="807.1" y="427.6" text-anchor="middle" fill="#00008b" font-size="11.3">S</text>
<text x="298.5" y="411.2" text-anchor="middle" fill="#00008b" font-size="11.3">N</text>
<text x="289.3" y="419.7" text-anchor="middle" fill="#00008b" font-size="11.3">W</text>
<text x="305.1" y="419.7" text-anchor="middle" fill="#00008b" font-size="11.3">E</text>
<text x="298.0" y="427.6" text-anchor="middle" fill="#00008b" font-size="11.3">S</text>
</g>
<g font-family="'Liberation Sans', sans-serif">
<rect x="170.1" y="29" width="61.8" height="599.5" fill="#e9f0fc"/>
<clipPath id="l1"><rect x="135.5" y="57.5" width="110.0" height="77.0"/></clipPath>
<rect x="135.5" y="57.5" width="34.6" height="77.0" fill="#fff"/>
<rect x="231.9" y="57.5" width="13.6" height="77.0" fill="#fff"/>
<g clip-path="url(#l1)">
<polygon points="135.6,88.4 142.3,91.0 163.3,99.5 184.6,106.3 205.6,109.8 226.8,110.6 245.6,108.1 245.6,114.0 239.3,116.6 232.4,120.3 226.8,118.0 205.6,115.7 184.6,114.5 163.3,109.8 142.3,100.9 135.6,100.9" fill="#ffe6da"/>
<rect x="135.5" y="111.5" width="110.0" height="23.0" fill="#87d7ff"/>
<rect x="170.1" y="111.5" width="61.8" height="23.0" fill="#80c4f0"/>
<polygon points="135.6,111.5 171.0,111.5 184.6,118.3 205.6,127.7 226.8,134.0 135.6,134.0" fill="#68b4ec" opacity="0.75"/>
<polygon points="135.6,101.2 142.3,101.6 147.1,103.3 163.3,108.9 171.0,111.5 184.6,114.5 205.6,117.4 218.8,114.9 226.8,118.0 232.4,121.4 239.3,116.2 245.6,114.5 245.6,118.3 239.3,125.1 232.4,129.4 226.8,130.2 205.6,127.7 184.6,121.7 163.3,114.0 147.1,109.8 135.6,108.1" fill="#c4e8ff" opacity="0.9"/>
</g>
<g stroke="#000" stroke-width="1" stroke-dasharray="2,2" shape-rendering="crispEdges" fill="none"><line x1="142.5" y1="57.5" x2="142.5" y2="134.5"/><line x1="163.5" y1="57.5" x2="163.5" y2="134.5"/><line x1="184.5" y1="57.5" x2="184.5" y2="134.5"/><line x1="205.5" y1="57.5" x2="205.5" y2="134.5"/><line x1="226.5" y1="57.5" x2="226.5" y2="134.5"/><line x1="135.5" y1="59.5" x2="245.5" y2="59.5"/><line x1="135.5" y1="77.5" x2="245.5" y2="77.5"/><line x1="135.5" y1="94.5" x2="245.5" y2="94.5"/><line x1="135.5" y1="111.5" x2="245.5" y2="111.5"/><line x1="135.5" y1="129.5" x2="245.5" y2="129.5"/></g>
<g clip-path="url(#l1)">
<rect x="135.8" y="113.5" width="2" height="2" fill="#6a5acd"/>
<rect x="141.3" y="113.5" width="2" height="2" fill="#6a5acd"/>
<rect x="148.6" y="113.5" width="2" height="2" fill="#6a5acd"/>
<rect x="155.5" y="113.9" width="2" height="2" fill="#6a5acd"/>
<rect x="162.3" y="114.2" width="2" height="2" fill="#6a5acd"/>
<rect x="170.0" y="113.2" width="2" height="2" fill="#6a5acd"/>
<rect x="176.8" y="113.9" width="2" height="2" fill="#6a5acd"/>
<rect x="189.6" y="117.3" width="2" height="2" fill="#6a5acd"/>
<rect x="197.3" y="116.6" width="2" height="2" fill="#6a5acd"/>
<rect x="204.1" y="117.6" width="2" height="2" fill="#6a5acd"/>
<rect x="211.0" y="118.3" width="2" height="2" fill="#6a5acd"/>
<rect x="224.6" y="119.9" width="2" height="2" fill="#6a5acd"/>
<rect x="231.4" y="119.0" width="2" height="2" fill="#6a5acd"/>
<rect x="240.0" y="118.1" width="2" height="2" fill="#6a5acd"/>
<polyline points="135.6,102.9 142.3,103.3 147.1,104.6 163.3,110.1 171.0,112.8 184.6,115.7 198.3,118.0 205.6,118.6 212.0,119.1 218.8,115.7 226.8,119.1 232.4,122.6 239.3,117.4 245.6,115.7" fill="none" stroke="#0000ff" stroke-width="2.2" stroke-linejoin="round"/>
<polyline points="135.6,99.5 142.3,99.5 147.1,100.9 163.3,108.1 171.0,111.5 184.6,113.2 205.6,114.0 218.8,115.7 226.8,116.6 232.4,119.1 239.3,114.9 245.6,112.3" fill="none" stroke="#ff0000" stroke-width="2.3" stroke-linejoin="round"/>
<g stroke="#b01818" stroke-width="1"><line x1="142.3" y1="67.1" x2="142.3" y2="77.3"/><line x1="149.6" y1="77.3" x2="149.6" y2="92.7"/><line x1="156.5" y1="86.7" x2="156.5" y2="99.5"/><line x1="163.3" y1="97.8" x2="163.3" y2="108.9"/><line x1="170.5" y1="100.4" x2="170.5" y2="114.9"/><line x1="177.5" y1="102.9" x2="177.5" y2="118.3"/><line x1="184.6" y1="104.6" x2="184.6" y2="121.7"/><line x1="191.5" y1="107.2" x2="191.5" y2="124.3"/><line x1="198.3" y1="108.1" x2="198.3" y2="126.0"/><line x1="205.6" y1="108.9" x2="205.6" y2="128.5"/><line x1="212.5" y1="108.9" x2="212.5" y2="130.2"/><line x1="219.6" y1="109.8" x2="219.6" y2="131.1"/><line x1="226.8" y1="109.8" x2="226.8" y2="133.7"/><line x1="233.6" y1="110.6" x2="233.6" y2="132.8"/><line x1="240.6" y1="105.5" x2="240.6" y2="120.9"/></g>
</g>
<rect x="135.5" y="57.5" width="110.0" height="77.0" fill="none" stroke="#000" stroke-width="1" shape-rendering="crispEdges"/>
<clipPath id="l2"><rect x="135.5" y="143.5" width="110.0" height="77.0"/></clipPath>
<rect x="135.5" y="143.5" width="34.6" height="76.0" fill="#fff"/>
<rect x="231.9" y="143.5" width="13.6" height="76.0" fill="#fff"/>
<rect x="135.6" y="186.9" width="7.5" height="33.1" fill="#009a00"/>
<rect x="143.1" y="180.7" width="6.5" height="39.3" fill="#009a00"/>
<rect x="149.6" y="179.0" width="7.7" height="41.0" fill="#009a00"/>
<rect x="157.3" y="201.7" width="6.8" height="18.3" fill="#009a00"/>
<rect x="164.1" y="207.7" width="6.0" height="12.3" fill="#009a00"/>
<rect x="170.1" y="218.3" width="6.8" height="1.7" fill="#009a00"/>
<rect x="157.3" y="182.1" width="6.8" height="19.6" fill="#1a35d6"/>
<rect x="164.1" y="205.1" width="6.0" height="2.6" fill="#1a35d6"/>
<g stroke="#000" stroke-width="1" stroke-dasharray="2,2" shape-rendering="crispEdges" fill="none"><line x1="142.5" y1="143.5" x2="142.5" y2="219.5"/><line x1="163.5" y1="143.5" x2="163.5" y2="219.5"/><line x1="184.5" y1="143.5" x2="184.5" y2="219.5"/><line x1="205.5" y1="143.5" x2="205.5" y2="219.5"/><line x1="226.5" y1="143.5" x2="226.5" y2="219.5"/><line x1="135.5" y1="150.5" x2="245.5" y2="150.5"/><line x1="135.5" y1="168.5" x2="245.5" y2="168.5"/><line x1="135.5" y1="185.5" x2="245.5" y2="185.5"/><line x1="135.5" y1="203.5" x2="245.5" y2="203.5"/></g>
<polyline points="139.4,165.0 139.4,186.9" fill="none" stroke="#00a800" stroke-width="1" shape-rendering="crispEdges"/>
<polyline points="146.6,148.0 146.6,180.7" fill="none" stroke="#00a800" stroke-width="1" shape-rendering="crispEdges"/>
<polyline points="153.4,148.0 153.4,179.0" fill="none" stroke="#00a800" stroke-width="1" shape-rendering="crispEdges"/>
<polyline points="160.7,171.0 160.7,182.1" fill="none" stroke="#1a35d6" stroke-width="1" />
<g clip-path="url(#l2)">
<polyline points="136.8,172.7 143.1,168.4 149.6,158.2 157.3,154.8 164.1,153.1 184.6,152.7 188.9,149.7 193.2,148.8 198.3,149.3 205.6,154.8 212.0,155.6 218.8,152.2 225.6,149.7 232.4,151.4 239.3,156.5 245.6,164.2" fill="none" stroke="#e8501a" stroke-width="2.2" stroke-linejoin="round"/>
</g>
<rect x="145.3" y="146.1" width="2.6" height="2.6" fill="#ff0000"/>
<rect x="152.3" y="146.1" width="2.6" height="2.6" fill="#ff0000"/>
<circle cx="139.4" cy="173.2" r="2.3" fill="#ffe600" stroke="#402000" stroke-width="0.7"/>
<circle cx="146.6" cy="173.2" r="2.3" fill="#ff9a00" stroke="#402000" stroke-width="0.7"/>
<circle cx="153.6" cy="173.2" r="2.3" fill="#ff0000" stroke="#402000" stroke-width="0.7"/>
<rect x="135.5" y="143.5" width="110.0" height="76.0" fill="none" stroke="#000" stroke-width="1" shape-rendering="crispEdges"/>
<rect x="138.5" y="218.9" width="2.6" height="1.4" fill="#ff0000"/>
<rect x="146.2" y="218.9" width="1.7" height="1.4" fill="#ff0000"/>
<rect x="153.0" y="218.9" width="2.6" height="1.4" fill="#ff0000"/>
<rect x="159.9" y="218.9" width="2.6" height="1.4" fill="#ff0000"/>
<clipPath id="l3"><rect x="135.5" y="229.5" width="110.0" height="76.0"/></clipPath>
<rect x="135.5" y="229.5" width="34.6" height="76.0" fill="#fff"/>
<rect x="231.9" y="229.5" width="13.6" height="76.0" fill="#fff"/>
<g clip-path="url(#l3)">
<polygon points="135.5,305.5 135.6,260.9 143.1,259.9 149.6,253.6 157.3,249.0 164.1,248.5 170.5,244.5 177.8,247.6 184.6,250.2 191.5,253.6 205.6,253.8 225.6,253.8 232.4,257.0 239.3,260.4 245.6,264.7 245.5,305.5" fill="#ffff00"/>
<rect x="165.0" y="245.9" width="5" height="60" fill="#ffd800"/>
</g>
<g stroke="#000" stroke-width="1" stroke-dasharray="2,2" shape-rendering="crispEdges" fill="none"><line x1="142.5" y1="229.5" x2="142.5" y2="305.5"/><line x1="163.5" y1="229.5" x2="163.5" y2="305.5"/><line x1="184.5" y1="229.5" x2="184.5" y2="305.5"/><line x1="205.5" y1="229.5" x2="205.5" y2="305.5"/><line x1="226.5" y1="229.5" x2="226.5" y2="305.5"/><line x1="135.5" y1="231.5" x2="245.5" y2="231.5"/><line x1="135.5" y1="254.5" x2="245.5" y2="254.5"/><line x1="135.5" y1="278.5" x2="245.5" y2="278.5"/><line x1="135.5" y1="301.5" x2="245.5" y2="301.5"/></g>
<g clip-path="url(#l3)">
<polyline points="135.6,260.9 143.1,259.9 149.6,253.6 157.3,249.0 164.1,248.5 170.5,244.5 177.8,247.6 184.6,250.2 191.5,253.6 205.6,253.8 225.6,253.8 232.4,257.0 239.3,260.4 245.6,264.7" fill="none" stroke="#000" stroke-width="2.4" stroke-linejoin="round"/>
</g>
<rect x="135.5" y="229.5" width="110.0" height="76.0" fill="none" stroke="#000" stroke-width="1" shape-rendering="crispEdges"/>
<clipPath id="l4"><rect x="135.5" y="315.5" width="110.0" height="77.0"/></clipPath>
<rect x="135.5" y="315.5" width="34.6" height="77.0" fill="#fff"/>
<rect x="231.9" y="315.5" width="13.6" height="77.0" fill="#fff"/>
<clipPath id="l4w"><polygon points="135.5,392.5 135.6,365.2 143.1,369.1 149.6,371.2 157.3,372.5 164.1,373.7 171.0,374.6 177.8,375.4 184.6,374.9 191.5,373.7 198.3,372.9 205.6,372.9 225.6,372.9 232.4,371.5 239.3,370.3 245.6,369.8 245.5,392.5"/></clipPath>
<g clip-path="url(#l4w)">
<rect x="135.6" y="315.5" width="12.6" height="77.0" fill="#10c810"/>
<rect x="147.9" y="315.5" width="21.3" height="77.0" fill="#008010"/>
<rect x="168.9" y="315.5" width="28.3" height="77.0" fill="#004890"/>
<rect x="196.9" y="315.5" width="14.5" height="77.0" fill="#008010"/>
<rect x="211.1" y="315.5" width="14.0" height="77.0" fill="#004890"/>
<rect x="224.8" y="315.5" width="14.8" height="77.0" fill="#008010"/>
<rect x="239.3" y="315.5" width="7.1" height="77.0" fill="#10c810"/>
</g>
<g stroke="#000" stroke-width="1" stroke-dasharray="2,2" shape-rendering="crispEdges" fill="none"><line x1="142.5" y1="315.5" x2="142.5" y2="392.5"/><line x1="163.5" y1="315.5" x2="163.5" y2="392.5"/><line x1="184.5" y1="315.5" x2="184.5" y2="392.5"/><line x1="205.5" y1="315.5" x2="205.5" y2="392.5"/><line x1="226.5" y1="315.5" x2="226.5" y2="392.5"/><line x1="135.5" y1="334.5" x2="245.5" y2="334.5"/><line x1="135.5" y1="354.5" x2="245.5" y2="354.5"/><line x1="135.5" y1="372.5" x2="245.5" y2="372.5"/></g>
<g clip-path="url(#l4)">
<polyline points="135.6,365.2 143.1,369.1 149.6,371.2 157.3,372.5 164.1,373.7 171.0,374.6 177.8,375.4 184.6,374.9 191.5,373.7 198.3,372.9 205.6,372.9 225.6,372.9 232.4,371.5 239.3,370.3 245.6,369.8" fill="none" stroke="#0a0aa0" stroke-width="2.4" stroke-linejoin="round"/>
<polyline points="141.1,340.1 148.8,340.1" fill="none" stroke="#ff0000" stroke-width="1.2" />
<polyline points="147.9,347.3 155.6,347.6 161.6,348.6" fill="none" stroke="#ff0000" stroke-width="1.2" />
<polyline points="162.4,351.5 170.1,351.5" fill="none" stroke="#ff0000" stroke-width="1.2" />
<polyline points="170.1,355.5 177.0,355.5" fill="none" stroke="#ff0000" stroke-width="1.2" />
<polyline points="177.0,358.4 184.6,358.4" fill="none" stroke="#ff0000" stroke-width="1.2" />
<polyline points="184.6,354.4 188.9,354.4" fill="none" stroke="#ff0000" stroke-width="1.2" />
<polyline points="190.6,351.5 198.3,350.3 211.1,350.3 212.0,351.2 224.8,351.2" fill="none" stroke="#ff0000" stroke-width="1.2" />
<polyline points="225.6,347.6 232.4,347.6" fill="none" stroke="#ff0000" stroke-width="1.2" />
<polyline points="232.4,343.5 239.3,343.0 245.6,342.1" fill="none" stroke="#ff0000" stroke-width="1.2" />
</g>
<rect x="135.5" y="315.5" width="110.0" height="77.0" fill="none" stroke="#000" stroke-width="1" shape-rendering="crispEdges"/>
<rect x="136.9" y="315.2" width="2.6" height="2.6" fill="#ff0000"/>
<rect x="135.5" y="398.5" width="34.6" height="31.0" fill="#fff"/>
<rect x="231.9" y="398.5" width="13.6" height="31.0" fill="#fff"/>
<g stroke="#000" stroke-width="1" stroke-dasharray="2,2" shape-rendering="crispEdges" fill="none"><line x1="142.5" y1="398.5" x2="142.5" y2="429.5"/><line x1="163.5" y1="398.5" x2="163.5" y2="429.5"/><line x1="184.5" y1="398.5" x2="184.5" y2="429.5"/><line x1="205.5" y1="398.5" x2="205.5" y2="429.5"/><line x1="226.5" y1="398.5" x2="226.5" y2="429.5"/></g>
<line x1="134.2" y1="406.0" x2="139.1" y2="418.9" stroke="#0505a5" stroke-width="1.35"/><polygon points="140.8,423.4 137.0,419.7 141.3,418.1" fill="#0505a5"/>
<line x1="141.1" y1="406.0" x2="146.1" y2="418.9" stroke="#0505a5" stroke-width="1.35"/><polygon points="147.8,423.4 143.9,419.7 148.2,418.1" fill="#0505a5"/>
<line x1="148.1" y1="406.0" x2="153.0" y2="418.9" stroke="#0505a5" stroke-width="1.35"/><polygon points="154.7,423.4 150.9,419.7 155.2,418.1" fill="#0505a5"/>
<line x1="155.0" y1="406.0" x2="160.0" y2="418.9" stroke="#0505a5" stroke-width="1.35"/><polygon points="161.7,423.4 157.8,419.7 162.1,418.1" fill="#0505a5"/>
<line x1="162.0" y1="406.0" x2="166.9" y2="418.9" stroke="#0505a5" stroke-width="1.35"/><polygon points="168.6,423.4 164.8,419.7 169.1,418.1" fill="#0505a5"/>
<line x1="168.9" y1="406.0" x2="173.9" y2="418.9" stroke="#0505a5" stroke-width="1.35"/><polygon points="175.6,423.4 171.7,419.7 176.0,418.1" fill="#0505a5"/>
<line x1="175.9" y1="406.0" x2="180.8" y2="418.9" stroke="#0505a5" stroke-width="1.35"/><polygon points="182.5,423.4 178.7,419.7 183.0,418.1" fill="#0505a5"/>
<line x1="182.8" y1="406.0" x2="187.8" y2="418.9" stroke="#0505a5" stroke-width="1.35"/><polygon points="189.5,423.4 185.6,419.7 189.9,418.1" fill="#0505a5"/>
<line x1="189.8" y1="406.0" x2="194.7" y2="418.9" stroke="#0505a5" stroke-width="1.35"/><polygon points="196.4,423.4 192.6,419.7 196.9,418.1" fill="#0505a5"/>
<line x1="196.7" y1="406.0" x2="201.7" y2="418.9" stroke="#0505a5" stroke-width="1.35"/><polygon points="203.4,423.4 199.5,419.7 203.8,418.1" fill="#0505a5"/>
<line x1="203.7" y1="406.0" x2="208.6" y2="418.9" stroke="#0505a5" stroke-width="1.35"/><polygon points="210.3,423.4 206.5,419.7 210.8,418.1" fill="#0505a5"/>
<line x1="210.6" y1="406.0" x2="215.6" y2="418.9" stroke="#0505a5" stroke-width="1.35"/><polygon points="217.3,423.4 213.4,419.7 217.7,418.1" fill="#0505a5"/>
<line x1="217.6" y1="406.0" x2="222.5" y2="418.9" stroke="#0505a5" stroke-width="1.35"/><polygon points="224.2,423.4 220.4,419.7 224.7,418.1" fill="#0505a5"/>
<line x1="224.5" y1="406.0" x2="229.5" y2="418.9" stroke="#0505a5" stroke-width="1.35"/><polygon points="231.2,423.4 227.3,419.7 231.6,418.1" fill="#0505a5"/>
<line x1="231.5" y1="406.0" x2="236.4" y2="418.9" stroke="#0505a5" stroke-width="1.35"/><polygon points="238.1,423.4 234.3,419.7 238.6,418.1" fill="#0505a5"/>
<line x1="238.4" y1="406.0" x2="243.4" y2="418.9" stroke="#0505a5" stroke-width="1.35"/><polygon points="245.1,423.4 241.2,419.7 245.5,418.1" fill="#0505a5"/>
<line x1="245.4" y1="406.0" x2="250.3" y2="418.9" stroke="#0505a5" stroke-width="1.35"/><polygon points="252.0,423.4 248.2,419.7 252.5,418.1" fill="#0505a5"/>
<rect x="135.5" y="398.5" width="110.0" height="31.0" fill="none" stroke="#000" stroke-width="1" shape-rendering="crispEdges"/>
<clipPath id="l6"><rect x="135.5" y="436.5" width="110.0" height="78.0"/></clipPath>
<rect x="135.5" y="436.5" width="110.0" height="78.0" fill="#87d7ff"/>
<rect x="170.1" y="436.5" width="61.8" height="78.0" fill="#80c4f0"/>
<g stroke="#000" stroke-width="1" stroke-dasharray="2,2" shape-rendering="crispEdges" fill="none"><line x1="142.5" y1="436.5" x2="142.5" y2="514.5"/><line x1="163.5" y1="436.5" x2="163.5" y2="514.5"/><line x1="184.5" y1="436.5" x2="184.5" y2="514.5"/><line x1="205.5" y1="436.5" x2="205.5" y2="514.5"/><line x1="226.5" y1="436.5" x2="226.5" y2="514.5"/><line x1="135.5" y1="456.5" x2="245.5" y2="456.5"/><line x1="135.5" y1="475.5" x2="245.5" y2="475.5"/><line x1="135.5" y1="495.5" x2="245.5" y2="495.5"/></g>
<g clip-path="url(#l6)">
<circle cx="136.8" cy="505.1" r="2.3" fill="#ffffff"/>
<circle cx="143.7" cy="505.1" r="2.3" fill="#ffffff"/>
<circle cx="150.5" cy="500.0" r="2.3" fill="#ffffff"/>
<circle cx="164.1" cy="499.1" r="2.3" fill="#ffffff"/>
<circle cx="170.5" cy="492.3" r="2.3" fill="#ffffff"/>
<circle cx="177.5" cy="492.3" r="2.3" fill="#ffffff"/>
<circle cx="184.6" cy="509.4" r="2.3" fill="#ffffff"/>
<circle cx="191.5" cy="500.0" r="2.3" fill="#ffffff"/>
<circle cx="198.3" cy="492.3" r="2.3" fill="#ffffff"/>
<circle cx="204.6" cy="492.3" r="2.3" fill="#ffffff"/>
<circle cx="211.6" cy="492.8" r="2.3" fill="#ffffff"/>
<circle cx="218.4" cy="509.4" r="2.3" fill="#ffffff"/>
<circle cx="225.3" cy="509.4" r="2.3" fill="#ffffff"/>
<circle cx="232.4" cy="509.4" r="2.3" fill="#ffffff"/>
<circle cx="239.3" cy="509.4" r="2.3" fill="#ffffff"/>
<circle cx="136.8" cy="505.1" r="2.3" fill="#cfcfcf"/>
<circle cx="170.5" cy="489.8" r="2.3" fill="#cfcfcf"/>
<circle cx="177.5" cy="489.8" r="2.3" fill="#cfcfcf"/>
<circle cx="198.3" cy="489.8" r="2.3" fill="#cfcfcf"/>
<circle cx="211.6" cy="485.5" r="2.3" fill="#cfcfcf"/>
<circle cx="211.6" cy="489.8" r="2.3" fill="#cfcfcf"/>
<circle cx="218.4" cy="500.0" r="2.3" fill="#cfcfcf"/>
<circle cx="225.3" cy="500.0" r="2.3" fill="#cfcfcf"/>
<circle cx="239.3" cy="500.0" r="2.3" fill="#cfcfcf"/>
<circle cx="244.7" cy="500.0" r="2.3" fill="#cfcfcf"/>
<circle cx="143.7" cy="500.0" r="2.3" fill="#a0a0a0"/>
<circle cx="198.3" cy="485.5" r="2.3" fill="#a0a0a0"/>
<circle cx="211.6" cy="480.9" r="2.3" fill="#a0a0a0"/>
<circle cx="232.4" cy="500.0" r="2.3" fill="#a0a0a0"/>
<circle cx="184.6" cy="503.4" r="2.3" fill="#a0a0a0"/>
<circle cx="244.7" cy="480.9" r="2.3" fill="#a0a0a0"/>
<circle cx="143.7" cy="480.9" r="2.3" fill="#606060"/>
<circle cx="150.5" cy="492.8" r="2.3" fill="#606060"/>
<circle cx="157.3" cy="492.8" r="2.3" fill="#606060"/>
<circle cx="164.1" cy="492.8" r="2.3" fill="#606060"/>
<circle cx="191.5" cy="489.8" r="2.3" fill="#606060"/>
<circle cx="218.4" cy="489.4" r="2.3" fill="#606060"/>
<circle cx="225.3" cy="493.2" r="2.3" fill="#606060"/>
<circle cx="232.4" cy="494.0" r="2.3" fill="#606060"/>
<circle cx="239.3" cy="494.0" r="2.3" fill="#606060"/>
<circle cx="184.6" cy="500.0" r="2.3" fill="#606060"/>
<circle cx="184.6" cy="489.4" r="2.3" fill="#000000"/>
<circle cx="191.5" cy="456.5" r="2.3" fill="#000000"/>
<circle cx="198.3" cy="464.1" r="2.3" fill="#000000"/>
<circle cx="204.6" cy="467.9" r="2.3" fill="#000000"/>
<circle cx="211.6" cy="470.5" r="2.3" fill="#000000"/>
<circle cx="218.4" cy="480.9" r="2.3" fill="#000000"/>
<circle cx="225.3" cy="485.0" r="2.3" fill="#000000"/>
<circle cx="232.4" cy="489.4" r="2.3" fill="#000000"/>
<circle cx="239.3" cy="480.9" r="2.3" fill="#000000"/>
<circle cx="244.7" cy="476.1" r="2.3" fill="#000000"/>
<circle cx="136.8" cy="475.8" r="2.3" fill="#b22222"/>
<circle cx="143.7" cy="475.8" r="2.3" fill="#b22222"/>
<circle cx="150.5" cy="458.2" r="2.3" fill="#b22222"/>
<circle cx="157.3" cy="458.2" r="2.3" fill="#b22222"/>
<circle cx="164.1" cy="459.9" r="2.3" fill="#b22222"/>
<circle cx="170.5" cy="451.3" r="2.3" fill="#b22222"/>
<circle cx="177.5" cy="449.6" r="2.3" fill="#b22222"/>
<circle cx="184.6" cy="449.3" r="2.3" fill="#b22222"/>
<circle cx="191.5" cy="449.3" r="2.3" fill="#b22222"/>
<circle cx="198.3" cy="451.3" r="2.3" fill="#b22222"/>
<circle cx="204.6" cy="449.3" r="2.3" fill="#b22222"/>
<circle cx="211.6" cy="449.3" r="2.3" fill="#b22222"/>
<circle cx="218.4" cy="449.3" r="2.3" fill="#b22222"/>
<circle cx="225.3" cy="449.3" r="2.3" fill="#b22222"/>
<circle cx="232.4" cy="449.3" r="2.3" fill="#b22222"/>
<circle cx="239.3" cy="449.3" r="2.3" fill="#b22222"/>
<circle cx="244.7" cy="449.6" r="2.3" fill="#b22222"/>
<polyline points="135.6,471.0 142.0,471.0 147.1,467.6 150.5,465.9 157.3,464.1 164.1,463.8 179.5,463.8 184.6,465.9 191.5,469.3 198.3,471.0 205.1,471.0 212.0,471.8 218.8,474.4 225.6,474.7 232.4,474.0 239.3,471.8 245.6,470.1" fill="none" stroke="#ff9900" stroke-width="2.4" stroke-linejoin="round"/>
</g>
<g opacity="0.55" stroke="#000" stroke-width="1" stroke-dasharray="2,2" shape-rendering="crispEdges" fill="none"><line x1="142.5" y1="436.5" x2="142.5" y2="514.5"/><line x1="163.5" y1="436.5" x2="163.5" y2="514.5"/><line x1="184.5" y1="436.5" x2="184.5" y2="514.5"/><line x1="205.5" y1="436.5" x2="205.5" y2="514.5"/><line x1="226.5" y1="436.5" x2="226.5" y2="514.5"/><line x1="135.5" y1="456.5" x2="245.5" y2="456.5"/><line x1="135.5" y1="475.5" x2="245.5" y2="475.5"/><line x1="135.5" y1="495.5" x2="245.5" y2="495.5"/></g>
<rect x="135.5" y="436.5" width="110.0" height="78.0" fill="none" stroke="#000" stroke-width="1" shape-rendering="crispEdges"/>
<clipPath id="l7"><rect x="135.5" y="523.5" width="110.0" height="77.0"/></clipPath>
<rect x="135.5" y="523.5" width="110.0" height="77.0" fill="#87d7ff"/>
<rect x="170.1" y="523.5" width="61.8" height="77.0" fill="#80c4f0"/>
<g clip-path="url(#l7)">
<polygon points="165.0,600.5 166.7,587.7 171.0,575.8 177.8,565.5 184.6,563.0 188.9,552.7 194.9,545.9 204.6,541.6 208.5,532.2 212.0,527.1 218.8,524.2 232.4,524.2 239.3,534.8 245.6,544.2 245.6,600.5" fill="#ffffff"/>
<polygon points="193.2,600.5 193.5,572.3 195.7,546.7 198.3,531.4 204.6,533.9 208.5,533.1 212.8,528.0 218.8,525.4 232.4,524.9 239.3,536.1 245.6,545.0 245.6,600.5" fill="#9a9a9a"/>
<polygon points="234.1,523.7 245.6,523.7 245.6,541.6 240.1,533.1" fill="#9a9a9a"/>
<polygon points="135.6,575.8 143.1,563.8 149.6,575.8 157.3,583.4 165.0,586.9 166.7,589.4 174.4,592.8 179.5,592.8 184.6,568.9 191.5,570.3 195.7,584.3 204.6,596.2 212.0,584.3 215.4,563.8 218.8,545.0 225.6,534.8 232.4,537.3 239.3,550.1 245.6,567.2 245.6,600.5 135.6,600.5" fill="#555555"/>
<polygon points="135.6,588.6 142.8,596.2 149.6,591.1 157.3,595.4 164.1,600.5 135.6,600.5" fill="#333333"/>
<polyline points="135.6,589.4 142.0,596.2 148.8,599.7 164.1,600.5 166.7,587.7" fill="none" stroke="#bbbbbb" stroke-width="0.8" />
<polyline points="184.6,600.5 188.9,586.0 192.3,574.1" fill="none" stroke="#cccccc" stroke-width="0.9" />
<polyline points="204.6,541.6 208.5,532.2 212.0,527.1 218.8,524.2 232.4,524.2 239.3,534.8 244.4,543.3" fill="none" stroke="#ffffff" stroke-width="1.1" />
<rect x="216.9" y="590.3" width="3" height="10.2" fill="#ffb400"/>
<rect x="223.8" y="590.3" width="3" height="10.2" fill="#ffb400"/>
<rect x="230.9" y="590.3" width="3" height="10.2" fill="#ffb400"/>
<rect x="237.8" y="590.3" width="3" height="10.2" fill="#ffb400"/>
</g>
<g stroke="#000" stroke-width="1" stroke-dasharray="2,2" shape-rendering="crispEdges" fill="none"><line x1="142.5" y1="523.5" x2="142.5" y2="600.5"/><line x1="163.5" y1="523.5" x2="163.5" y2="600.5"/><line x1="184.5" y1="523.5" x2="184.5" y2="600.5"/><line x1="205.5" y1="523.5" x2="205.5" y2="600.5"/><line x1="226.5" y1="523.5" x2="226.5" y2="600.5"/><line x1="135.5" y1="543.5" x2="245.5" y2="543.5"/><line x1="135.5" y1="562.5" x2="245.5" y2="562.5"/><line x1="135.5" y1="581.5" x2="245.5" y2="581.5"/></g>
<rect x="135.5" y="523.5" width="110.0" height="77.0" fill="none" stroke="#000" stroke-width="1" shape-rendering="crispEdges"/>
<polyline points="69.0,16.5 134.0,16.5 157.0,44.0" fill="none" stroke="#000" stroke-width="1"/>
<polyline points="102.0,44.5 118.0,44.5 149.0,82.0" fill="none" stroke="#a52a2a" stroke-width="1"/>
<polyline points="92.0,77.5 115.0,77.5" fill="none" stroke="#ff0000" stroke-width="1"/>
<polyline points="130.0,77.5 133.0,77.5 169.0,107.5" fill="none" stroke="#ff0000" stroke-width="1"/>
<polyline points="70.0,99.5 131.0,99.5 136.0,102.0" fill="none" stroke="#0000ff" stroke-width="1"/>
<polyline points="95.0,120.5 131.0,120.5 141.0,113.0" fill="none" stroke="#6a5acd" stroke-width="1"/>
<polyline points="103.0,137.5 141.0,137.5 146.5,147.0" fill="none" stroke="#ff0000" stroke-width="1"/>
<polyline points="106.0,151.5 111.0,151.5" fill="none" stroke="#e8501a" stroke-width="1"/>
<polyline points="130.0,151.5 133.0,151.5 147.0,160.0" fill="none" stroke="#e8501a" stroke-width="1"/>
<polyline points="94.0,166.5 113.0,166.5" fill="none" stroke="#000" stroke-width="1"/>
<polyline points="130.0,166.5 133.0,167.0 137.0,172.0" fill="none" stroke="#000" stroke-width="1"/>
<polyline points="71.0,179.5 139.5,179.5" fill="none" stroke="#00aa00" stroke-width="1"/>
<polyline points="80.0,190.5 138.0,190.5" fill="none" stroke="#00aa00" stroke-width="1"/>
<polyline points="70.0,202.5 112.0,202.5" fill="none" stroke="#1030d0" stroke-width="1"/>
<polyline points="129.0,202.5 132.0,202.0 160.7,171.5" fill="none" stroke="#1030d0" stroke-width="1"/>
<polyline points="81.0,213.5 131.0,213.5 157.5,187.0" fill="none" stroke="#1030d0" stroke-width="1"/>
<polyline points="97.0,225.5 143.0,225.5 148.0,220.0" fill="none" stroke="#ff0000" stroke-width="1"/>
<polyline points="51.0,264.5 131.0,264.5 136.0,262.0" fill="none" stroke="#000" stroke-width="1"/>
<polyline points="112.0,334.5 117.0,334.5" fill="none" stroke="#ff0000" stroke-width="1"/>
<polyline points="130.0,334.5 132.5,333.0 138.0,318.0" fill="none" stroke="#ff0000" stroke-width="1"/>
<polyline points="107.0,348.5 131.0,348.5 135.0,347.0 143.5,340.5" fill="none" stroke="#ff0000" stroke-width="1"/>
<polyline points="92.0,367.5 137.0,367.5" fill="none" stroke="#00009c" stroke-width="1"/>
<polyline points="86.0,410.5 141.0,410.5" fill="none" stroke="#00009c" stroke-width="1"/>
<polyline points="100.0,430.5 133.0,430.5 183.0,448.0" fill="none" stroke="#b22222" stroke-width="1"/>
<polyline points="57.0,468.5 130.0,468.5 190.5,456.5" fill="none" stroke="#000" stroke-width="1"/>
<polyline points="57.0,480.5 143.0,480.5" fill="none" stroke="#404040" stroke-width="1"/>
<polyline points="57.0,490.5 131.0,490.5 142.0,499.0" fill="none" stroke="#909090" stroke-width="1"/>
<polyline points="57.0,500.5 133.0,500.5 138.0,505.0" fill="none" stroke="#c8c8c8" stroke-width="1"/>
<polyline points="57.0,510.5 140.0,510.5" fill="none" stroke="#87cefa" stroke-width="3"/>
<polyline points="57.0,510.5 140.0,510.5" fill="none" stroke="#fff" stroke-width="1"/>
<polyline points="67.0,527.5 129.0,527.5 173.5,464.5" fill="none" stroke="#ff8800" stroke-width="1"/>
<polyline points="54.0,557.5 186.0,557.5" fill="none" stroke="#87cefa" stroke-width="3"/>
<polyline points="54.0,557.5 186.0,557.5" fill="none" stroke="#fff" stroke-width="1"/>
<polyline points="49.0,571.5 191.0,571.5" fill="none" stroke="#909090" stroke-width="1"/>
<polyline points="40.0,582.5 122.0,582.5" fill="none" stroke="#404040" stroke-width="1"/>
<polyline points="130.0,582.5 180.0,582.5" fill="none" stroke="#404040" stroke-width="1"/>
<polyline points="74.0,594.5 142.0,594.5" fill="none" stroke="#202020" stroke-width="1"/>
<polyline points="31.0,605.5 217.0,605.5 219.0,600.5" fill="none" stroke="#ffb400" stroke-width="1.4"/>
<polyline points="140.0,623.5 148.0,623.5 157.0,609.0" fill="none" stroke="#000" stroke-width="1"/>
<text x="6.0" y="18.0" textLength="59.5" lengthAdjust="spacingAndGlyphs" fill="#000" font-size="11">Czas lokalny</text>
<text x="6.0" y="29.0" textLength="54.5" lengthAdjust="spacingAndGlyphs" fill="#000" font-size="11">(CET/CEST)</text>
<text x="6.5" y="46.0" textLength="92.5" lengthAdjust="spacingAndGlyphs" fill="#a52a2a" font-size="11">Temperatura gruntu</text>
<text x="27.5" y="56.0" textLength="38.5" lengthAdjust="spacingAndGlyphs" fill="#a52a2a" font-size="11">max/min</text>
<text x="5.5" y="67.4" textLength="62.0" lengthAdjust="spacingAndGlyphs" fill="#000" font-size="11">Temperatura:</text>
<text x="12.6" y="79.4" textLength="77.0" lengthAdjust="spacingAndGlyphs" fill="#ff0000" font-size="11">punkt środkowy</text>
<text x="27.5" y="89.6" textLength="38.5" lengthAdjust="spacingAndGlyphs" fill="#ffd2c4" font-size="11">max/min</text>
<text x="10.0" y="101.6" textLength="57.5" lengthAdjust="spacingAndGlyphs" fill="#0000ff" font-size="11">odczuwana</text>
<text x="27.5" y="111.8" textLength="38.5" lengthAdjust="spacingAndGlyphs" fill="#a8dcff" font-size="11">max/min</text>
<text x="6.5" y="123.6" textLength="86.5" lengthAdjust="spacingAndGlyphs" fill="#6a5acd" font-size="11">Temp. punktu rosy</text>
<text x="6.5" y="140.6" textLength="94.0" lengthAdjust="spacingAndGlyphs" fill="#ff0000" font-size="11">Opad powyżej skali</text>
<text x="6.5" y="154.3" textLength="96.5" lengthAdjust="spacingAndGlyphs" fill="#e8501a" font-size="11">Wilgotność względna</text>
<text x="6.5" y="168.3" textLength="84.5" lengthAdjust="spacingAndGlyphs" fill="#000" font-size="11">Wystąpienie burzy</text>
<text x="6.5" y="182.3" textLength="38.5" lengthAdjust="spacingAndGlyphs" fill="#00aa00" font-size="11">Deszcz:</text>
<text x="49.5" y="182.3" textLength="19.5" lengthAdjust="spacingAndGlyphs" fill="#00aa00" font-size="11">max</text>
<text x="49.5" y="193.4" textLength="28.5" lengthAdjust="spacingAndGlyphs" fill="#00aa00" font-size="11">średni</text>
<text x="6.5" y="204.3" textLength="29.0" lengthAdjust="spacingAndGlyphs" fill="#1030d0" font-size="11">Śnieg:</text>
<text x="49.5" y="204.3" textLength="19.5" lengthAdjust="spacingAndGlyphs" fill="#1030d0" font-size="11">max</text>
<text x="49.5" y="215.4" textLength="28.5" lengthAdjust="spacingAndGlyphs" fill="#1030d0" font-size="11">średni</text>
<text x="6.0" y="227.7" textLength="88.5" lengthAdjust="spacingAndGlyphs" fill="#ff0000" font-size="11">Wystąpienie opadu</text>
<text x="6.0" y="240.5" textLength="71.5" lengthAdjust="spacingAndGlyphs" fill="#ff0000" font-size="11">konwekcyjnego</text>
<text x="5.0" y="266.6" textLength="42.0" lengthAdjust="spacingAndGlyphs" fill="#000" font-size="11">Ciśnienie</text>
<text x="5.0" y="279.7" textLength="66.0" lengthAdjust="spacingAndGlyphs" fill="#000" font-size="11">zredukowane</text>
<text x="5.0" y="292.7" textLength="87.5" lengthAdjust="spacingAndGlyphs" fill="#000" font-size="11">do poziomu morza</text>
<text x="5.0" y="321.3" textLength="42.5" lengthAdjust="spacingAndGlyphs" fill="#000" font-size="11">Wiatr na </text>
<text x="48.5" y="321.3" textLength="22.0" lengthAdjust="spacingAndGlyphs" font-family="'Liberation Serif', serif" fill="#000" font-size="12">10m:</text>
<text x="10.0" y="337.6" textLength="100.5" lengthAdjust="spacingAndGlyphs" fill="#ff0000" font-size="11.5">poryw powyżej skali</text>
<text x="10.0" y="351.2" textLength="94.5" lengthAdjust="spacingAndGlyphs" fill="#ff0000" font-size="11.5">max porywy wiatru</text>
<text x="10.0" y="370.9" textLength="78.5" lengthAdjust="spacingAndGlyphs" fill="#00009c" font-size="11.5">prędkość wiatru</text>
<text x="10.0" y="384.5" textLength="88.5" lengthAdjust="spacingAndGlyphs" fill="#00009c" font-size="11.5">w środku obszaru</text>
<text x="10.0" y="412.6" textLength="73.5" lengthAdjust="spacingAndGlyphs" fill="#00009c" font-size="11.5">kierunek wiatru</text>
<text x="6.0" y="432.6" textLength="91.0" lengthAdjust="spacingAndGlyphs" fill="#b22222" font-size="11">Wierzchołek chmur</text>
<text x="6.0" y="447.0" textLength="85.0" lengthAdjust="spacingAndGlyphs" fill="#000" font-size="11">Podstawa chmur*</text>
<text x="6.0" y="458.2" textLength="47.5" lengthAdjust="spacingAndGlyphs" fill="#000" font-size="11">o pokryciu</text>
<text x="10.5" y="471.0" textLength="44.0" lengthAdjust="spacingAndGlyphs" fill="#000" font-size="11">&gt; 7.9 okt.</text>
<text x="10.5" y="482.4" textLength="44.0" lengthAdjust="spacingAndGlyphs" fill="#404040" font-size="11">&gt; 6.5 okt.</text>
<text x="10.5" y="493.5" textLength="44.0" lengthAdjust="spacingAndGlyphs" fill="#909090" font-size="11">&gt; 4.5 okt.</text>
<text x="10.5" y="504.0" textLength="44.0" lengthAdjust="spacingAndGlyphs" fill="#d4d0c8" font-size="11">&gt; 2.5 okt.</text>
<rect x="11" y="505" width="44" height="11.5" fill="#87cefa"/>
<text x="10.5" y="514.6" textLength="44.0" lengthAdjust="spacingAndGlyphs" fill="#fff" font-size="11">&gt; 0.1 okt.</text>
<text x="6.0" y="529.3" textLength="57.0" lengthAdjust="spacingAndGlyphs" fill="#ff8800" font-size="11">Widzialność</text>
<text x="6.0" y="546.3" textLength="38.5" lengthAdjust="spacingAndGlyphs" fill="#000" font-size="11">Chmury:</text>
<rect x="10" y="551.5" width="41" height="11.2" fill="#87cefa"/>
<text x="11.0" y="560.3" textLength="39.0" lengthAdjust="spacingAndGlyphs" fill="#fff" font-size="11">wysokie</text>
<text x="10.0" y="572.5" textLength="35.5" lengthAdjust="spacingAndGlyphs" fill="#a0a0a0" font-size="11">średnie</text>
<text x="10.0" y="584.4" textLength="26.5" lengthAdjust="spacingAndGlyphs" fill="#404040" font-size="11">niskie</text>
<text x="10.0" y="595.9" textLength="61.0" lengthAdjust="spacingAndGlyphs" fill="#202020" font-size="11">bardzo niskie</text>
<text x="6.0" y="608.3" textLength="20.5" lengthAdjust="spacingAndGlyphs" fill="#ffb400" font-size="11">Mgła</text>
<text x="5.5" y="625.3" textLength="131.5" lengthAdjust="spacingAndGlyphs" fill="#000" font-size="12">Czas uniwersalny (UTC)</text>
<text x="5.0" y="650.6" textLength="103.0" lengthAdjust="spacingAndGlyphs" font-weight="bold" fill="#000" font-size="9">* powyżej poziomu morza</text>
<text x="128.5" y="62.3" text-anchor="end" fill="#000" font-size="10.5">30</text>
<text x="266.0" y="62.1" text-anchor="end" fill="#000" font-size="10.5">30</text>
<text x="128.5" y="81.0" text-anchor="end" fill="#000" font-size="10.5">20</text>
<text x="266.0" y="80.8" text-anchor="end" fill="#000" font-size="10.5">20</text>
<text x="128.5" y="98.0" text-anchor="end" fill="#000" font-size="10.5">10</text>
<text x="266.0" y="97.8" text-anchor="end" fill="#000" font-size="10.5">10</text>
<text x="128.5" y="115.0" text-anchor="end" fill="#000" font-size="10.5">0</text>
<text x="266.0" y="114.8" text-anchor="end" fill="#000" font-size="10.5">0</text>
<text x="128.5" y="132.0" text-anchor="end" fill="#000" font-size="10.5">-10</text>
<text x="266.0" y="131.8" text-anchor="end" fill="#000" font-size="10.5">-10</text>
<text x="128.5" y="154.2" text-anchor="end" fill="#000" font-size="10.5">2.0</text>
<text x="128.5" y="171.5" text-anchor="end" fill="#000" font-size="10.5">1.5</text>
<text x="128.5" y="188.9" text-anchor="end" fill="#000" font-size="10.5">1.0</text>
<text x="128.5" y="206.2" text-anchor="end" fill="#000" font-size="10.5">0.5</text>
<text x="128.5" y="223.6" text-anchor="end" fill="#000" font-size="10.5">0.0</text>
<text x="254.5" y="153.1" fill="#e8501a" font-size="10.5">96</text>
<text x="254.5" y="170.7" fill="#e8501a" font-size="10.5">84</text>
<text x="254.5" y="188.0" fill="#e8501a" font-size="10.5">73</text>
<text x="254.5" y="205.7" fill="#e8501a" font-size="10.5">61</text>
<text x="254.5" y="222.6" fill="#e8501a" font-size="10.5">50</text>
<text x="128.5" y="234.5" text-anchor="end" fill="#000" font-size="10.5">1018</text>
<text x="250.8" y="234.3" fill="#000" font-size="10.5">1018</text>
<text x="128.5" y="257.4" text-anchor="end" fill="#000" font-size="10.5">1016</text>
<text x="250.8" y="257.2" fill="#000" font-size="10.5">1016</text>
<text x="128.5" y="281.5" text-anchor="end" fill="#000" font-size="10.5">1014</text>
<text x="250.8" y="281.3" fill="#000" font-size="10.5">1014</text>
<text x="128.5" y="304.4" text-anchor="end" fill="#000" font-size="10.5">1012</text>
<text x="250.8" y="304.2" fill="#000" font-size="10.5">1012</text>
<text x="128.5" y="318.5" text-anchor="end" fill="#000" font-size="10.5">20</text>
<text x="128.5" y="337.3" text-anchor="end" fill="#000" font-size="10.5">15</text>
<text x="128.5" y="357.2" text-anchor="end" fill="#000" font-size="10.5">10</text>
<text x="128.5" y="376.3" text-anchor="end" fill="#000" font-size="10.5">5</text>
<text x="128.5" y="395.0" text-anchor="end" fill="#000" font-size="10.5">0</text>
<text x="251.3" y="318.6" fill="#000" font-size="10.5">72</text>
<text x="251.3" y="337.9" fill="#000" font-size="10.5">54</text>
<text x="251.3" y="357.5" fill="#000" font-size="10.5">36</text>
<text x="251.3" y="376.3" fill="#000" font-size="10.5">18</text>
<text x="253.8" y="395.0" fill="#000" font-size="10.5">0</text>
<text x="128.5" y="439.7" text-anchor="end" fill="#000" font-size="10.5">15.0</text>
<text x="128.5" y="459.5" text-anchor="end" fill="#000" font-size="10.5">7.0</text>
<text x="128.5" y="478.7" text-anchor="end" fill="#000" font-size="10.5">2.0</text>
<text x="128.5" y="498.3" text-anchor="end" fill="#000" font-size="10.5">0.5</text>
<text x="128.5" y="517.3" text-anchor="end" fill="#000" font-size="10.5">0.0</text>
<text x="251.5" y="439.2" fill="#ff8800" font-size="10.5">100</text>
<text x="251.5" y="459.3" fill="#ff8800" font-size="10.5">20</text>
<text x="251.5" y="478.2" fill="#ff8800" font-size="10.5">5</text>
<text x="251.5" y="497.8" fill="#ff8800" font-size="10.5">1</text>
<text x="251.5" y="517.0" fill="#ff8800" font-size="10.5">0</text>
<text x="128.5" y="526.4" text-anchor="end" fill="#000" font-size="10.5">8</text>
<text x="128.5" y="546.3" text-anchor="end" fill="#000" font-size="10.5">6</text>
<text x="128.5" y="565.1" text-anchor="end" fill="#000" font-size="10.5">4</text>
<text x="128.5" y="585.1" text-anchor="end" fill="#000" font-size="10.5">2</text>
<text x="128.5" y="603.8" text-anchor="end" fill="#000" font-size="10.5">0</text>
<text x="251.5" y="526.2" fill="#ff8800" font-size="10.5">1</text>
<text x="251.5" y="545.9" fill="#ff8800" font-size="10.5">0.75</text>
<text x="251.5" y="565.0" fill="#ff8800" font-size="10.5">0.5</text>
<text x="251.5" y="584.3" fill="#ff8800" font-size="10.5">0.25</text>
<text x="251.5" y="603.0" fill="#ff8800" font-size="10.5">0</text>
<text x="164.0" y="51.6" text-anchor="middle" fill="#000" font-size="11.5">20</text>
<text x="204.0" y="51.6" text-anchor="middle" fill="#000" font-size="11.5">02</text>
<text x="244.5" y="51.6" text-anchor="middle" fill="#000" font-size="11.5">08</text>
<text x="164.3" y="614.4" text-anchor="middle" fill="#000" font-size="11.5">18</text>
<text x="204.1" y="614.4" text-anchor="middle" fill="#000" font-size="11.5">00</text>
<text x="245.1" y="614.4" text-anchor="middle" fill="#000" font-size="11.5">06</text>
</g>
</svg>
</body></html>
